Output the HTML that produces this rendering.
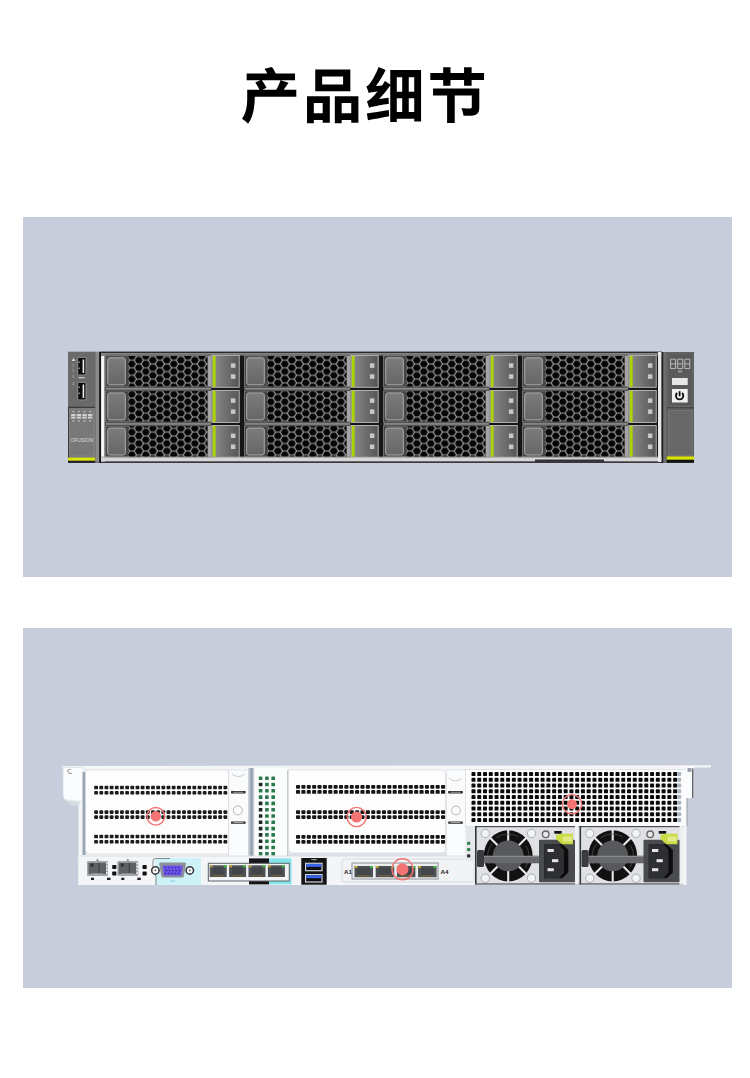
<!DOCTYPE html><html><head><meta charset="utf-8"><title>产品细节</title><style>html,body{margin:0;padding:0;background:#fff;width:750px;height:1078px;overflow:hidden;font-family:"Liberation Sans",sans-serif}svg{display:block}</style></head><body>
<svg width="750" height="1078" viewBox="0 0 750 1078">
<defs>
<pattern id="hex0" patternUnits="userSpaceOnUse" width="14.0" height="7.57" x="131.80" y="364">
<rect width="14.0" height="7.57" fill="#050505"/>
<path fill="none" stroke="#a4a4a4" stroke-width="1.15" d="M-4.667 0.000 L-2.333 -3.785 L2.333 -3.785 L4.667 0.000 L2.333 3.785 L-2.333 3.785Z M9.333 0.000 L11.667 -3.785 L16.333 -3.785 L18.667 0.000 L16.333 3.785 L11.667 3.785Z M-4.667 7.570 L-2.333 3.785 L2.333 3.785 L4.667 7.570 L2.333 11.355 L-2.333 11.355Z M9.333 7.570 L11.667 3.785 L16.333 3.785 L18.667 7.570 L16.333 11.355 L11.667 11.355Z M2.333 3.785 L4.667 0.000 L9.333 0.000 L11.667 3.785 L9.333 7.570 L4.667 7.570Z"/>
</pattern>
<pattern id="hex1" patternUnits="userSpaceOnUse" width="14.0" height="7.57" x="270.80" y="364">
<rect width="14.0" height="7.57" fill="#050505"/>
<path fill="none" stroke="#a4a4a4" stroke-width="1.15" d="M-4.667 0.000 L-2.333 -3.785 L2.333 -3.785 L4.667 0.000 L2.333 3.785 L-2.333 3.785Z M9.333 0.000 L11.667 -3.785 L16.333 -3.785 L18.667 0.000 L16.333 3.785 L11.667 3.785Z M-4.667 7.570 L-2.333 3.785 L2.333 3.785 L4.667 7.570 L2.333 11.355 L-2.333 11.355Z M9.333 7.570 L11.667 3.785 L16.333 3.785 L18.667 7.570 L16.333 11.355 L11.667 11.355Z M2.333 3.785 L4.667 0.000 L9.333 0.000 L11.667 3.785 L9.333 7.570 L4.667 7.570Z"/>
</pattern>
<pattern id="hex2" patternUnits="userSpaceOnUse" width="14.0" height="7.57" x="409.80" y="364">
<rect width="14.0" height="7.57" fill="#050505"/>
<path fill="none" stroke="#a4a4a4" stroke-width="1.15" d="M-4.667 0.000 L-2.333 -3.785 L2.333 -3.785 L4.667 0.000 L2.333 3.785 L-2.333 3.785Z M9.333 0.000 L11.667 -3.785 L16.333 -3.785 L18.667 0.000 L16.333 3.785 L11.667 3.785Z M-4.667 7.570 L-2.333 3.785 L2.333 3.785 L4.667 7.570 L2.333 11.355 L-2.333 11.355Z M9.333 7.570 L11.667 3.785 L16.333 3.785 L18.667 7.570 L16.333 11.355 L11.667 11.355Z M2.333 3.785 L4.667 0.000 L9.333 0.000 L11.667 3.785 L9.333 7.570 L4.667 7.570Z"/>
</pattern>
<pattern id="hex3" patternUnits="userSpaceOnUse" width="14.0" height="7.57" x="548.80" y="364">
<rect width="14.0" height="7.57" fill="#050505"/>
<path fill="none" stroke="#a4a4a4" stroke-width="1.15" d="M-4.667 0.000 L-2.333 -3.785 L2.333 -3.785 L4.667 0.000 L2.333 3.785 L-2.333 3.785Z M9.333 0.000 L11.667 -3.785 L16.333 -3.785 L18.667 0.000 L16.333 3.785 L11.667 3.785Z M-4.667 7.570 L-2.333 3.785 L2.333 3.785 L4.667 7.570 L2.333 11.355 L-2.333 11.355Z M9.333 7.570 L11.667 3.785 L16.333 3.785 L18.667 7.570 L16.333 11.355 L11.667 11.355Z M2.333 3.785 L4.667 0.000 L9.333 0.000 L11.667 3.785 L9.333 7.570 L4.667 7.570Z"/>
</pattern>
<linearGradient id="latch" x1="0" x2="1" y1="0" y2="0"><stop offset="0" stop-color="#8c8c8c"/><stop offset="1" stop-color="#555"/></linearGradient>
<linearGradient id="handle" x1="0" x2="0" y1="0" y2="1"><stop offset="0" stop-color="#7c7c7c"/><stop offset="1" stop-color="#666"/></linearGradient>
<linearGradient id="sideband" x1="0" x2="1" y1="0" y2="0"><stop offset="0" stop-color="#a9b3be"/><stop offset="0.5" stop-color="#93a0ad"/><stop offset="1" stop-color="#dfe4ea"/></linearGradient>
<linearGradient id="cyl" x1="0" x2="1" y1="0" y2="0"><stop offset="0" stop-color="#d6dce2"/><stop offset="0.55" stop-color="#8f9ba8"/><stop offset="1" stop-color="#e4e8ec"/></linearGradient>
<linearGradient id="chrome" x1="0" x2="1" y1="0" y2="0"><stop offset="0" stop-color="#fff"/><stop offset="0.6" stop-color="#eee"/><stop offset="1" stop-color="#777"/></linearGradient>
</defs>
<path transform="translate(240.60 117.8) scale(0.05950 -0.05950)" d="M403 824C419 801 435 773 448 746H102V632H332L246 595C272 558 301 510 317 472H111V333C111 231 103 87 24 -16C51 -31 105 -78 125 -102C218 17 237 205 237 331V355H936V472H724L807 589L672 631C656 583 626 518 599 472H367L436 503C421 540 388 592 357 632H915V746H590C577 778 552 822 527 854Z"/>
<path transform="translate(302.87 117.8) scale(0.05950 -0.05950)" d="M324 695H676V561H324ZM208 810V447H798V810ZM70 363V-90H184V-39H333V-84H453V363ZM184 76V248H333V76ZM537 363V-90H652V-39H813V-85H933V363ZM652 76V248H813V76Z"/>
<path transform="translate(365.14 117.8) scale(0.05950 -0.05950)" d="M29 73 47 -43C149 -23 280 0 404 25L397 131C264 109 124 85 29 73ZM422 802V559L333 619C318 594 302 568 285 544L181 536C241 615 300 712 344 805L227 854C184 738 111 617 86 585C62 553 44 532 21 527C35 495 55 438 60 414C78 422 105 428 208 440C167 390 132 351 114 335C80 302 56 282 30 276C43 247 60 192 66 170C94 184 136 195 400 238C397 263 394 309 395 339L234 317C302 385 367 463 422 542V-70H532V-14H825V-61H940V802ZM623 97H532V328H623ZM733 97V328H825V97ZM623 439H532V681H623ZM733 439V681H825V439Z"/>
<path transform="translate(427.41 117.8) scale(0.05950 -0.05950)" d="M95 492V376H331V-87H459V376H746V176C746 162 740 159 721 158C702 158 630 158 572 161C588 125 603 71 607 34C700 34 766 34 812 53C860 72 872 109 872 173V492ZM616 850V751H388V850H265V751H49V636H265V540H388V636H616V540H743V636H952V751H743V850Z"/>
<rect x="23" y="217" width="709" height="360" fill="#c7cdda"/>
<rect x="23" y="628" width="709" height="360" fill="#c7cdda"/>
<rect x="68" y="352" width="626" height="111" fill="#3a3a3a"/>
<rect x="68" y="351.7" width="27.3" height="56" fill="#6a6a6a"/>
<rect x="68" y="407.7" width="27.3" height="55" fill="#787878"/>
<rect x="68" y="406.7" width="27.3" height="1.4" fill="#3c3c3c"/>
<rect x="68" y="408" width="1.2" height="54.7" fill="#3a3a3a"/>
<rect x="69.5" y="409" width="24.5" height="47" fill="none" stroke="#8a8a8a" stroke-width="0.7"/>
<rect x="68" y="457.6" width="27.3" height="3.2" fill="#d9e600"/>
<rect x="68" y="460.8" width="27.3" height="2" fill="#1c1c2a"/>
<rect x="95.3" y="351.7" width="4" height="111" fill="#8a8a8a"/>
<rect x="99.3" y="351.7" width="1.8" height="111" fill="#111"/>
<rect x="77.6" y="357.4" width="8.6" height="17.6" rx="1.2" fill="none" stroke="#8d8d8d" stroke-width="0.8"/>
<rect x="78.3" y="358.0" width="7" height="16.3" fill="#0a0a0a"/>
<rect x="82.6" y="359.5" width="1.6" height="13.5" fill="#f0f0f0"/>
<rect x="78.6" y="361.6" width="1.2" height="1.2" fill="#ddd"/>
<rect x="78.6" y="367.6" width="1.2" height="1.2" fill="#ddd"/>
<rect x="77.6" y="382.4" width="8.6" height="17.6" rx="1.2" fill="none" stroke="#8d8d8d" stroke-width="0.8"/>
<rect x="78.3" y="383.0" width="7" height="16.3" fill="#0a0a0a"/>
<rect x="82.6" y="384.5" width="1.6" height="13.5" fill="#f0f0f0"/>
<rect x="78.6" y="386.6" width="1.2" height="1.2" fill="#ddd"/>
<rect x="78.6" y="392.6" width="1.2" height="1.2" fill="#ddd"/>
<path d="M71.5 361 L73.5 358 L75.5 361 Z" fill="#d8d8d8"/>
<text x="73.2" y="366.5" font-size="3.4" fill="#c8c8c8" text-anchor="middle" font-family="Liberation Sans">1</text>
<text x="73.2" y="372.0" font-size="3.4" fill="#c8c8c8" text-anchor="middle" font-family="Liberation Sans">2</text>
<text x="73.2" y="378.0" font-size="3.4" fill="#c8c8c8" text-anchor="middle" font-family="Liberation Sans">3</text>
<text x="73.2" y="384.5" font-size="3.4" fill="#c8c8c8" text-anchor="middle" font-family="Liberation Sans">4</text>
<rect x="78.6" y="377" width="6" height="1.3" fill="#c0c0c0"/>
<rect x="72.3" y="410.8" width="2" height="1.6" fill="#b0b0b0"/>
<rect x="71.1" y="414.0" width="4.4" height="2" fill="#d2d2d2"/>
<rect x="71.1" y="416.6" width="4.4" height="2" fill="#d2d2d2"/>
<rect x="72.3" y="420" width="2" height="2" fill="#a8a8a8"/>
<rect x="77.9" y="410.8" width="2" height="1.6" fill="#b0b0b0"/>
<rect x="76.7" y="414.0" width="4.4" height="2" fill="#d2d2d2"/>
<rect x="76.7" y="416.6" width="4.4" height="2" fill="#d2d2d2"/>
<rect x="77.9" y="420" width="2" height="2" fill="#a8a8a8"/>
<rect x="83.5" y="410.8" width="2" height="1.6" fill="#b0b0b0"/>
<rect x="82.3" y="414.0" width="4.4" height="2" fill="#d2d2d2"/>
<rect x="82.3" y="416.6" width="4.4" height="2" fill="#d2d2d2"/>
<rect x="83.5" y="420" width="2" height="2" fill="#a8a8a8"/>
<rect x="89.1" y="410.8" width="2" height="1.6" fill="#b0b0b0"/>
<rect x="87.9" y="414.0" width="4.4" height="2" fill="#d2d2d2"/>
<rect x="87.9" y="416.6" width="4.4" height="2" fill="#d2d2d2"/>
<rect x="89.1" y="420" width="2" height="2" fill="#a8a8a8"/>
<text x="82" y="442.3" font-size="4.6" fill="#dcdcdc" text-anchor="middle" font-family="Liberation Sans" textLength="22.5" lengthAdjust="spacingAndGlyphs">OFUSION</text>
<rect x="101.1" y="353" width="3.6" height="108.5" fill="#f6f6f6"/>
<rect x="104.2" y="353" width="1.5" height="108.5" fill="#8a8a8a"/>
<rect x="101" y="351.7" width="561" height="4.3" fill="#858585"/>
<rect x="101" y="351.7" width="561" height="1.2" fill="#222"/>
<rect x="105" y="354.6" width="553" height="0.8" fill="#555"/>
<rect x="105" y="355.7" width="553" height="101" fill="#161616"/>
<rect x="105.50" y="355.80" width="102" height="31" fill="#464646" stroke="#8e8e8e" stroke-width="0.7"/>
<rect x="128.30" y="356.00" width="79.5" height="30.6" fill="url(#hex0)"/>
<rect x="207.70" y="355.80" width="3.4" height="31" fill="#a4a4a4"/>
<rect x="107.70" y="357.80" width="17.6" height="27" rx="2.2" fill="url(#handle)" stroke="#ababab" stroke-width="1"/>
<rect x="211.80" y="355.30" width="27.4" height="32" fill="url(#latch)" stroke="#c2c2c2" stroke-width="0.9"/>
<rect x="212.80" y="355.80" width="2.8" height="31" fill="#acd400"/>
<rect x="230.90" y="363.30" width="4.5" height="4.5" fill="#c8c8c8"/>
<rect x="230.90" y="374.30" width="4.5" height="4.5" fill="#c8c8c8"/>
<rect x="105.50" y="390.90" width="102" height="31" fill="#464646" stroke="#8e8e8e" stroke-width="0.7"/>
<rect x="128.30" y="391.10" width="79.5" height="30.6" fill="url(#hex0)"/>
<rect x="207.70" y="390.90" width="3.4" height="31" fill="#a4a4a4"/>
<rect x="107.70" y="392.90" width="17.6" height="27" rx="2.2" fill="url(#handle)" stroke="#ababab" stroke-width="1"/>
<rect x="211.80" y="390.40" width="27.4" height="32" fill="url(#latch)" stroke="#c2c2c2" stroke-width="0.9"/>
<rect x="212.80" y="390.90" width="2.8" height="31" fill="#acd400"/>
<rect x="230.90" y="398.40" width="4.5" height="4.5" fill="#c8c8c8"/>
<rect x="230.90" y="409.40" width="4.5" height="4.5" fill="#c8c8c8"/>
<rect x="105.50" y="426.00" width="102" height="31" fill="#464646" stroke="#8e8e8e" stroke-width="0.7"/>
<rect x="128.30" y="426.20" width="79.5" height="30.6" fill="url(#hex0)"/>
<rect x="207.70" y="426.00" width="3.4" height="31" fill="#a4a4a4"/>
<rect x="107.70" y="428.00" width="17.6" height="27" rx="2.2" fill="url(#handle)" stroke="#ababab" stroke-width="1"/>
<rect x="211.80" y="425.50" width="27.4" height="32" fill="url(#latch)" stroke="#c2c2c2" stroke-width="0.9"/>
<rect x="212.80" y="426.00" width="2.8" height="31" fill="#acd400"/>
<rect x="230.90" y="433.50" width="4.5" height="4.5" fill="#c8c8c8"/>
<rect x="230.90" y="444.50" width="4.5" height="4.5" fill="#c8c8c8"/>
<rect x="105.50" y="386.80" width="105.6" height="4.1" fill="#555"/>
<rect x="105.50" y="388.30" width="105.6" height="1.1" fill="#a2a2a2"/>
<rect x="105.50" y="421.90" width="105.6" height="4.1" fill="#555"/>
<rect x="105.50" y="423.40" width="105.6" height="1.1" fill="#a2a2a2"/>
<rect x="244.50" y="355.80" width="102" height="31" fill="#464646" stroke="#8e8e8e" stroke-width="0.7"/>
<rect x="267.30" y="356.00" width="79.5" height="30.6" fill="url(#hex1)"/>
<rect x="346.70" y="355.80" width="3.4" height="31" fill="#a4a4a4"/>
<rect x="246.70" y="357.80" width="17.6" height="27" rx="2.2" fill="url(#handle)" stroke="#ababab" stroke-width="1"/>
<rect x="350.80" y="355.30" width="27.4" height="32" fill="url(#latch)" stroke="#c2c2c2" stroke-width="0.9"/>
<rect x="351.80" y="355.80" width="2.8" height="31" fill="#acd400"/>
<rect x="369.90" y="363.30" width="4.5" height="4.5" fill="#c8c8c8"/>
<rect x="369.90" y="374.30" width="4.5" height="4.5" fill="#c8c8c8"/>
<rect x="244.50" y="390.90" width="102" height="31" fill="#464646" stroke="#8e8e8e" stroke-width="0.7"/>
<rect x="267.30" y="391.10" width="79.5" height="30.6" fill="url(#hex1)"/>
<rect x="346.70" y="390.90" width="3.4" height="31" fill="#a4a4a4"/>
<rect x="246.70" y="392.90" width="17.6" height="27" rx="2.2" fill="url(#handle)" stroke="#ababab" stroke-width="1"/>
<rect x="350.80" y="390.40" width="27.4" height="32" fill="url(#latch)" stroke="#c2c2c2" stroke-width="0.9"/>
<rect x="351.80" y="390.90" width="2.8" height="31" fill="#acd400"/>
<rect x="369.90" y="398.40" width="4.5" height="4.5" fill="#c8c8c8"/>
<rect x="369.90" y="409.40" width="4.5" height="4.5" fill="#c8c8c8"/>
<rect x="244.50" y="426.00" width="102" height="31" fill="#464646" stroke="#8e8e8e" stroke-width="0.7"/>
<rect x="267.30" y="426.20" width="79.5" height="30.6" fill="url(#hex1)"/>
<rect x="346.70" y="426.00" width="3.4" height="31" fill="#a4a4a4"/>
<rect x="246.70" y="428.00" width="17.6" height="27" rx="2.2" fill="url(#handle)" stroke="#ababab" stroke-width="1"/>
<rect x="350.80" y="425.50" width="27.4" height="32" fill="url(#latch)" stroke="#c2c2c2" stroke-width="0.9"/>
<rect x="351.80" y="426.00" width="2.8" height="31" fill="#acd400"/>
<rect x="369.90" y="433.50" width="4.5" height="4.5" fill="#c8c8c8"/>
<rect x="369.90" y="444.50" width="4.5" height="4.5" fill="#c8c8c8"/>
<rect x="244.50" y="386.80" width="105.6" height="4.1" fill="#555"/>
<rect x="244.50" y="388.30" width="105.6" height="1.1" fill="#a2a2a2"/>
<rect x="244.50" y="421.90" width="105.6" height="4.1" fill="#555"/>
<rect x="244.50" y="423.40" width="105.6" height="1.1" fill="#a2a2a2"/>
<rect x="383.50" y="355.80" width="102" height="31" fill="#464646" stroke="#8e8e8e" stroke-width="0.7"/>
<rect x="406.30" y="356.00" width="79.5" height="30.6" fill="url(#hex2)"/>
<rect x="485.70" y="355.80" width="3.4" height="31" fill="#a4a4a4"/>
<rect x="385.70" y="357.80" width="17.6" height="27" rx="2.2" fill="url(#handle)" stroke="#ababab" stroke-width="1"/>
<rect x="489.80" y="355.30" width="27.4" height="32" fill="url(#latch)" stroke="#c2c2c2" stroke-width="0.9"/>
<rect x="490.80" y="355.80" width="2.8" height="31" fill="#acd400"/>
<rect x="508.90" y="363.30" width="4.5" height="4.5" fill="#c8c8c8"/>
<rect x="508.90" y="374.30" width="4.5" height="4.5" fill="#c8c8c8"/>
<rect x="383.50" y="390.90" width="102" height="31" fill="#464646" stroke="#8e8e8e" stroke-width="0.7"/>
<rect x="406.30" y="391.10" width="79.5" height="30.6" fill="url(#hex2)"/>
<rect x="485.70" y="390.90" width="3.4" height="31" fill="#a4a4a4"/>
<rect x="385.70" y="392.90" width="17.6" height="27" rx="2.2" fill="url(#handle)" stroke="#ababab" stroke-width="1"/>
<rect x="489.80" y="390.40" width="27.4" height="32" fill="url(#latch)" stroke="#c2c2c2" stroke-width="0.9"/>
<rect x="490.80" y="390.90" width="2.8" height="31" fill="#acd400"/>
<rect x="508.90" y="398.40" width="4.5" height="4.5" fill="#c8c8c8"/>
<rect x="508.90" y="409.40" width="4.5" height="4.5" fill="#c8c8c8"/>
<rect x="383.50" y="426.00" width="102" height="31" fill="#464646" stroke="#8e8e8e" stroke-width="0.7"/>
<rect x="406.30" y="426.20" width="79.5" height="30.6" fill="url(#hex2)"/>
<rect x="485.70" y="426.00" width="3.4" height="31" fill="#a4a4a4"/>
<rect x="385.70" y="428.00" width="17.6" height="27" rx="2.2" fill="url(#handle)" stroke="#ababab" stroke-width="1"/>
<rect x="489.80" y="425.50" width="27.4" height="32" fill="url(#latch)" stroke="#c2c2c2" stroke-width="0.9"/>
<rect x="490.80" y="426.00" width="2.8" height="31" fill="#acd400"/>
<rect x="508.90" y="433.50" width="4.5" height="4.5" fill="#c8c8c8"/>
<rect x="508.90" y="444.50" width="4.5" height="4.5" fill="#c8c8c8"/>
<rect x="383.50" y="386.80" width="105.6" height="4.1" fill="#555"/>
<rect x="383.50" y="388.30" width="105.6" height="1.1" fill="#a2a2a2"/>
<rect x="383.50" y="421.90" width="105.6" height="4.1" fill="#555"/>
<rect x="383.50" y="423.40" width="105.6" height="1.1" fill="#a2a2a2"/>
<rect x="522.50" y="355.80" width="102" height="31" fill="#464646" stroke="#8e8e8e" stroke-width="0.7"/>
<rect x="545.30" y="356.00" width="79.5" height="30.6" fill="url(#hex3)"/>
<rect x="624.70" y="355.80" width="3.4" height="31" fill="#a4a4a4"/>
<rect x="524.70" y="357.80" width="17.6" height="27" rx="2.2" fill="url(#handle)" stroke="#ababab" stroke-width="1"/>
<rect x="628.80" y="355.30" width="27.4" height="32" fill="url(#latch)" stroke="#c2c2c2" stroke-width="0.9"/>
<rect x="629.80" y="355.80" width="2.8" height="31" fill="#acd400"/>
<rect x="647.90" y="363.30" width="4.5" height="4.5" fill="#c8c8c8"/>
<rect x="647.90" y="374.30" width="4.5" height="4.5" fill="#c8c8c8"/>
<rect x="522.50" y="390.90" width="102" height="31" fill="#464646" stroke="#8e8e8e" stroke-width="0.7"/>
<rect x="545.30" y="391.10" width="79.5" height="30.6" fill="url(#hex3)"/>
<rect x="624.70" y="390.90" width="3.4" height="31" fill="#a4a4a4"/>
<rect x="524.70" y="392.90" width="17.6" height="27" rx="2.2" fill="url(#handle)" stroke="#ababab" stroke-width="1"/>
<rect x="628.80" y="390.40" width="27.4" height="32" fill="url(#latch)" stroke="#c2c2c2" stroke-width="0.9"/>
<rect x="629.80" y="390.90" width="2.8" height="31" fill="#acd400"/>
<rect x="647.90" y="398.40" width="4.5" height="4.5" fill="#c8c8c8"/>
<rect x="647.90" y="409.40" width="4.5" height="4.5" fill="#c8c8c8"/>
<rect x="522.50" y="426.00" width="102" height="31" fill="#464646" stroke="#8e8e8e" stroke-width="0.7"/>
<rect x="545.30" y="426.20" width="79.5" height="30.6" fill="url(#hex3)"/>
<rect x="624.70" y="426.00" width="3.4" height="31" fill="#a4a4a4"/>
<rect x="524.70" y="428.00" width="17.6" height="27" rx="2.2" fill="url(#handle)" stroke="#ababab" stroke-width="1"/>
<rect x="628.80" y="425.50" width="27.4" height="32" fill="url(#latch)" stroke="#c2c2c2" stroke-width="0.9"/>
<rect x="629.80" y="426.00" width="2.8" height="31" fill="#acd400"/>
<rect x="647.90" y="433.50" width="4.5" height="4.5" fill="#c8c8c8"/>
<rect x="647.90" y="444.50" width="4.5" height="4.5" fill="#c8c8c8"/>
<rect x="522.50" y="386.80" width="105.6" height="4.1" fill="#555"/>
<rect x="522.50" y="388.30" width="105.6" height="1.1" fill="#a2a2a2"/>
<rect x="522.50" y="421.90" width="105.6" height="4.1" fill="#555"/>
<rect x="522.50" y="423.40" width="105.6" height="1.1" fill="#a2a2a2"/>
<rect x="101" y="457.3" width="561" height="4" fill="#d6d6d6"/>
<rect x="101" y="456.6" width="561" height="0.8" fill="#9a9a9a"/>
<rect x="535" y="459.5" width="69" height="2.5" fill="#333"/>
<rect x="658" y="352" width="3.6" height="110" fill="#e6e6e6"/>
<rect x="661.6" y="352" width="1.7" height="111" fill="#1e1e1e"/>
<rect x="663.3" y="352" width="3.5" height="111" fill="#6e6e6e"/>
<rect x="666.8" y="352" width="27.2" height="56" fill="#5a5a5a"/>
<rect x="667.8" y="353" width="25.2" height="53.6" fill="none" stroke="#707070" stroke-width="0.7"/>
<rect x="666.8" y="408" width="27.2" height="55" fill="#5c5c5c"/>
<rect x="668.3" y="410.5" width="24.4" height="45" fill="#686868" stroke="#7c7c7c" stroke-width="0.7"/>
<line x1="666.8" y1="407.6" x2="694" y2="407.6" stroke="#444" stroke-width="1"/>
<rect x="666.8" y="456.4" width="27.2" height="3.4" fill="#d8e400"/>
<rect x="666.8" y="459.8" width="27.2" height="2.9" fill="#111"/>
<line x1="670.6" y1="359.2" x2="675.6" y2="359.2" stroke="#c4c4c4" stroke-width="0.9"/>
<line x1="670.6" y1="363.9" x2="675.6" y2="363.9" stroke="#c4c4c4" stroke-width="0.9"/>
<line x1="670.6" y1="368.6" x2="675.6" y2="368.6" stroke="#c4c4c4" stroke-width="0.9"/>
<line x1="670.6" y1="359.2" x2="670.6" y2="368.6" stroke="#c4c4c4" stroke-width="0.9"/>
<line x1="675.6" y1="359.2" x2="675.6" y2="368.6" stroke="#c4c4c4" stroke-width="0.9"/>
<line x1="677.7" y1="359.2" x2="682.7" y2="359.2" stroke="#c4c4c4" stroke-width="0.9"/>
<line x1="677.7" y1="363.9" x2="682.7" y2="363.9" stroke="#c4c4c4" stroke-width="0.9"/>
<line x1="677.7" y1="368.6" x2="682.7" y2="368.6" stroke="#c4c4c4" stroke-width="0.9"/>
<line x1="677.7" y1="359.2" x2="677.7" y2="368.6" stroke="#c4c4c4" stroke-width="0.9"/>
<line x1="682.7" y1="359.2" x2="682.7" y2="368.6" stroke="#c4c4c4" stroke-width="0.9"/>
<line x1="684.8" y1="359.2" x2="689.8" y2="359.2" stroke="#c4c4c4" stroke-width="0.9"/>
<line x1="684.8" y1="363.9" x2="689.8" y2="363.9" stroke="#c4c4c4" stroke-width="0.9"/>
<line x1="684.8" y1="368.6" x2="689.8" y2="368.6" stroke="#c4c4c4" stroke-width="0.9"/>
<line x1="684.8" y1="359.2" x2="684.8" y2="368.6" stroke="#c4c4c4" stroke-width="0.9"/>
<line x1="689.8" y1="359.2" x2="689.8" y2="368.6" stroke="#c4c4c4" stroke-width="0.9"/>
<rect x="678" y="370.5" width="4" height="2" fill="#999"/>
<rect x="672" y="378" width="15.7" height="7" fill="#e6e6e6"/>
<rect x="672" y="389" width="15.7" height="13.5" fill="#efefef"/>
<path d="M677.1 393.0 a3.7 3.7 0 1 0 5.0 0" fill="none" stroke="#0a0a0a" stroke-width="1.8"/><line x1="679.6" y1="391.2" x2="679.6" y2="396.2" stroke="#0a0a0a" stroke-width="1.8"/>
<g id="rear">
<path d="M62 766 L711 765.3 L711 767.6 L62 768.5 Z" fill="#f4f6f8"/>
<rect x="78.5" y="767" width="608" height="118" fill="#f3f5f7"/>
<path d="M63 767 L84 768 L84 801.6 L68 801 Q63 800 63 795 Z" fill="#fbfcfd" stroke="#d6dbe2" stroke-width="0.8"/>
<path d="M72 773.5 Q68 774 67.5 771 Q68 769 70.5 769.5" fill="none" stroke="#777" stroke-width="0.8"/>
<rect x="82.4" y="772" width="4" height="83" fill="url(#sideband)"/>
<path d="M64 799 L80 801 L80 806 L70 805 Z" fill="#dde2e8" opacity="0.7"/>
<path d="M85.5 770 L228.5 770 L228.5 854 L90 854 Q85.5 854 85.5 849 Z" fill="#fdfdfd" stroke="#d0d5dc" stroke-width="0.6"/>
<rect x="94.20" y="785.70" width="3.80" height="3.60" rx="0.9" fill="#1c1c1c"/>
<rect x="99.37" y="785.70" width="3.80" height="3.60" rx="0.9" fill="#1c1c1c"/>
<rect x="104.54" y="785.70" width="3.80" height="3.60" rx="0.9" fill="#1c1c1c"/>
<rect x="109.71" y="785.70" width="3.80" height="3.60" rx="0.9" fill="#1c1c1c"/>
<rect x="114.88" y="785.70" width="3.80" height="3.60" rx="0.9" fill="#1c1c1c"/>
<rect x="120.05" y="785.70" width="3.80" height="3.60" rx="0.9" fill="#1c1c1c"/>
<rect x="125.22" y="785.70" width="3.80" height="3.60" rx="0.9" fill="#1c1c1c"/>
<rect x="130.39" y="785.70" width="3.80" height="3.60" rx="0.9" fill="#1c1c1c"/>
<rect x="135.56" y="785.70" width="3.80" height="3.60" rx="0.9" fill="#1c1c1c"/>
<rect x="140.73" y="785.70" width="3.80" height="3.60" rx="0.9" fill="#1c1c1c"/>
<rect x="145.90" y="785.70" width="3.80" height="3.60" rx="0.9" fill="#1c1c1c"/>
<rect x="151.07" y="785.70" width="3.80" height="3.60" rx="0.9" fill="#1c1c1c"/>
<rect x="156.24" y="785.70" width="3.80" height="3.60" rx="0.9" fill="#1c1c1c"/>
<rect x="161.41" y="785.70" width="3.80" height="3.60" rx="0.9" fill="#1c1c1c"/>
<rect x="166.58" y="785.70" width="3.80" height="3.60" rx="0.9" fill="#1c1c1c"/>
<rect x="171.75" y="785.70" width="3.80" height="3.60" rx="0.9" fill="#1c1c1c"/>
<rect x="176.92" y="785.70" width="3.80" height="3.60" rx="0.9" fill="#1c1c1c"/>
<rect x="182.09" y="785.70" width="3.80" height="3.60" rx="0.9" fill="#1c1c1c"/>
<rect x="187.26" y="785.70" width="3.80" height="3.60" rx="0.9" fill="#1c1c1c"/>
<rect x="192.43" y="785.70" width="3.80" height="3.60" rx="0.9" fill="#1c1c1c"/>
<rect x="197.60" y="785.70" width="3.80" height="3.60" rx="0.9" fill="#1c1c1c"/>
<rect x="202.77" y="785.70" width="3.80" height="3.60" rx="0.9" fill="#1c1c1c"/>
<rect x="207.94" y="785.70" width="3.80" height="3.60" rx="0.9" fill="#1c1c1c"/>
<rect x="213.11" y="785.70" width="3.80" height="3.60" rx="0.9" fill="#1c1c1c"/>
<rect x="218.28" y="785.70" width="3.80" height="3.60" rx="0.9" fill="#1c1c1c"/>
<rect x="223.45" y="785.70" width="3.80" height="3.60" rx="0.9" fill="#1c1c1c"/>
<rect x="94.20" y="791.00" width="3.80" height="3.60" rx="0.9" fill="#1c1c1c"/>
<rect x="99.37" y="791.00" width="3.80" height="3.60" rx="0.9" fill="#1c1c1c"/>
<rect x="104.54" y="791.00" width="3.80" height="3.60" rx="0.9" fill="#1c1c1c"/>
<rect x="109.71" y="791.00" width="3.80" height="3.60" rx="0.9" fill="#1c1c1c"/>
<rect x="114.88" y="791.00" width="3.80" height="3.60" rx="0.9" fill="#1c1c1c"/>
<rect x="120.05" y="791.00" width="3.80" height="3.60" rx="0.9" fill="#1c1c1c"/>
<rect x="125.22" y="791.00" width="3.80" height="3.60" rx="0.9" fill="#1c1c1c"/>
<rect x="130.39" y="791.00" width="3.80" height="3.60" rx="0.9" fill="#1c1c1c"/>
<rect x="135.56" y="791.00" width="3.80" height="3.60" rx="0.9" fill="#1c1c1c"/>
<rect x="140.73" y="791.00" width="3.80" height="3.60" rx="0.9" fill="#1c1c1c"/>
<rect x="145.90" y="791.00" width="3.80" height="3.60" rx="0.9" fill="#1c1c1c"/>
<rect x="151.07" y="791.00" width="3.80" height="3.60" rx="0.9" fill="#1c1c1c"/>
<rect x="156.24" y="791.00" width="3.80" height="3.60" rx="0.9" fill="#1c1c1c"/>
<rect x="161.41" y="791.00" width="3.80" height="3.60" rx="0.9" fill="#1c1c1c"/>
<rect x="166.58" y="791.00" width="3.80" height="3.60" rx="0.9" fill="#1c1c1c"/>
<rect x="171.75" y="791.00" width="3.80" height="3.60" rx="0.9" fill="#1c1c1c"/>
<rect x="176.92" y="791.00" width="3.80" height="3.60" rx="0.9" fill="#1c1c1c"/>
<rect x="182.09" y="791.00" width="3.80" height="3.60" rx="0.9" fill="#1c1c1c"/>
<rect x="187.26" y="791.00" width="3.80" height="3.60" rx="0.9" fill="#1c1c1c"/>
<rect x="192.43" y="791.00" width="3.80" height="3.60" rx="0.9" fill="#1c1c1c"/>
<rect x="197.60" y="791.00" width="3.80" height="3.60" rx="0.9" fill="#1c1c1c"/>
<rect x="202.77" y="791.00" width="3.80" height="3.60" rx="0.9" fill="#1c1c1c"/>
<rect x="207.94" y="791.00" width="3.80" height="3.60" rx="0.9" fill="#1c1c1c"/>
<rect x="213.11" y="791.00" width="3.80" height="3.60" rx="0.9" fill="#1c1c1c"/>
<rect x="218.28" y="791.00" width="3.80" height="3.60" rx="0.9" fill="#1c1c1c"/>
<rect x="223.45" y="791.00" width="3.80" height="3.60" rx="0.9" fill="#1c1c1c"/>
<rect x="94.20" y="810.30" width="3.80" height="3.60" rx="0.9" fill="#1c1c1c"/>
<rect x="99.37" y="810.30" width="3.80" height="3.60" rx="0.9" fill="#1c1c1c"/>
<rect x="104.54" y="810.30" width="3.80" height="3.60" rx="0.9" fill="#1c1c1c"/>
<rect x="109.71" y="810.30" width="3.80" height="3.60" rx="0.9" fill="#1c1c1c"/>
<rect x="114.88" y="810.30" width="3.80" height="3.60" rx="0.9" fill="#1c1c1c"/>
<rect x="120.05" y="810.30" width="3.80" height="3.60" rx="0.9" fill="#1c1c1c"/>
<rect x="125.22" y="810.30" width="3.80" height="3.60" rx="0.9" fill="#1c1c1c"/>
<rect x="130.39" y="810.30" width="3.80" height="3.60" rx="0.9" fill="#1c1c1c"/>
<rect x="135.56" y="810.30" width="3.80" height="3.60" rx="0.9" fill="#1c1c1c"/>
<rect x="140.73" y="810.30" width="3.80" height="3.60" rx="0.9" fill="#1c1c1c"/>
<rect x="145.90" y="810.30" width="3.80" height="3.60" rx="0.9" fill="#1c1c1c"/>
<rect x="151.07" y="810.30" width="3.80" height="3.60" rx="0.9" fill="#1c1c1c"/>
<rect x="156.24" y="810.30" width="3.80" height="3.60" rx="0.9" fill="#1c1c1c"/>
<rect x="161.41" y="810.30" width="3.80" height="3.60" rx="0.9" fill="#1c1c1c"/>
<rect x="166.58" y="810.30" width="3.80" height="3.60" rx="0.9" fill="#1c1c1c"/>
<rect x="171.75" y="810.30" width="3.80" height="3.60" rx="0.9" fill="#1c1c1c"/>
<rect x="176.92" y="810.30" width="3.80" height="3.60" rx="0.9" fill="#1c1c1c"/>
<rect x="182.09" y="810.30" width="3.80" height="3.60" rx="0.9" fill="#1c1c1c"/>
<rect x="187.26" y="810.30" width="3.80" height="3.60" rx="0.9" fill="#1c1c1c"/>
<rect x="192.43" y="810.30" width="3.80" height="3.60" rx="0.9" fill="#1c1c1c"/>
<rect x="197.60" y="810.30" width="3.80" height="3.60" rx="0.9" fill="#1c1c1c"/>
<rect x="202.77" y="810.30" width="3.80" height="3.60" rx="0.9" fill="#1c1c1c"/>
<rect x="207.94" y="810.30" width="3.80" height="3.60" rx="0.9" fill="#1c1c1c"/>
<rect x="213.11" y="810.30" width="3.80" height="3.60" rx="0.9" fill="#1c1c1c"/>
<rect x="218.28" y="810.30" width="3.80" height="3.60" rx="0.9" fill="#1c1c1c"/>
<rect x="223.45" y="810.30" width="3.80" height="3.60" rx="0.9" fill="#1c1c1c"/>
<rect x="94.20" y="815.30" width="3.80" height="3.60" rx="0.9" fill="#1c1c1c"/>
<rect x="99.37" y="815.30" width="3.80" height="3.60" rx="0.9" fill="#1c1c1c"/>
<rect x="104.54" y="815.30" width="3.80" height="3.60" rx="0.9" fill="#1c1c1c"/>
<rect x="109.71" y="815.30" width="3.80" height="3.60" rx="0.9" fill="#1c1c1c"/>
<rect x="114.88" y="815.30" width="3.80" height="3.60" rx="0.9" fill="#1c1c1c"/>
<rect x="120.05" y="815.30" width="3.80" height="3.60" rx="0.9" fill="#1c1c1c"/>
<rect x="125.22" y="815.30" width="3.80" height="3.60" rx="0.9" fill="#1c1c1c"/>
<rect x="130.39" y="815.30" width="3.80" height="3.60" rx="0.9" fill="#1c1c1c"/>
<rect x="135.56" y="815.30" width="3.80" height="3.60" rx="0.9" fill="#1c1c1c"/>
<rect x="140.73" y="815.30" width="3.80" height="3.60" rx="0.9" fill="#1c1c1c"/>
<rect x="145.90" y="815.30" width="3.80" height="3.60" rx="0.9" fill="#1c1c1c"/>
<rect x="151.07" y="815.30" width="3.80" height="3.60" rx="0.9" fill="#1c1c1c"/>
<rect x="156.24" y="815.30" width="3.80" height="3.60" rx="0.9" fill="#1c1c1c"/>
<rect x="161.41" y="815.30" width="3.80" height="3.60" rx="0.9" fill="#1c1c1c"/>
<rect x="166.58" y="815.30" width="3.80" height="3.60" rx="0.9" fill="#1c1c1c"/>
<rect x="171.75" y="815.30" width="3.80" height="3.60" rx="0.9" fill="#1c1c1c"/>
<rect x="176.92" y="815.30" width="3.80" height="3.60" rx="0.9" fill="#1c1c1c"/>
<rect x="182.09" y="815.30" width="3.80" height="3.60" rx="0.9" fill="#1c1c1c"/>
<rect x="187.26" y="815.30" width="3.80" height="3.60" rx="0.9" fill="#1c1c1c"/>
<rect x="192.43" y="815.30" width="3.80" height="3.60" rx="0.9" fill="#1c1c1c"/>
<rect x="197.60" y="815.30" width="3.80" height="3.60" rx="0.9" fill="#1c1c1c"/>
<rect x="202.77" y="815.30" width="3.80" height="3.60" rx="0.9" fill="#1c1c1c"/>
<rect x="207.94" y="815.30" width="3.80" height="3.60" rx="0.9" fill="#1c1c1c"/>
<rect x="213.11" y="815.30" width="3.80" height="3.60" rx="0.9" fill="#1c1c1c"/>
<rect x="218.28" y="815.30" width="3.80" height="3.60" rx="0.9" fill="#1c1c1c"/>
<rect x="223.45" y="815.30" width="3.80" height="3.60" rx="0.9" fill="#1c1c1c"/>
<rect x="94.20" y="834.70" width="3.80" height="3.60" rx="0.9" fill="#1c1c1c"/>
<rect x="99.37" y="834.70" width="3.80" height="3.60" rx="0.9" fill="#1c1c1c"/>
<rect x="104.54" y="834.70" width="3.80" height="3.60" rx="0.9" fill="#1c1c1c"/>
<rect x="109.71" y="834.70" width="3.80" height="3.60" rx="0.9" fill="#1c1c1c"/>
<rect x="114.88" y="834.70" width="3.80" height="3.60" rx="0.9" fill="#1c1c1c"/>
<rect x="120.05" y="834.70" width="3.80" height="3.60" rx="0.9" fill="#1c1c1c"/>
<rect x="125.22" y="834.70" width="3.80" height="3.60" rx="0.9" fill="#1c1c1c"/>
<rect x="130.39" y="834.70" width="3.80" height="3.60" rx="0.9" fill="#1c1c1c"/>
<rect x="135.56" y="834.70" width="3.80" height="3.60" rx="0.9" fill="#1c1c1c"/>
<rect x="140.73" y="834.70" width="3.80" height="3.60" rx="0.9" fill="#1c1c1c"/>
<rect x="145.90" y="834.70" width="3.80" height="3.60" rx="0.9" fill="#1c1c1c"/>
<rect x="151.07" y="834.70" width="3.80" height="3.60" rx="0.9" fill="#1c1c1c"/>
<rect x="156.24" y="834.70" width="3.80" height="3.60" rx="0.9" fill="#1c1c1c"/>
<rect x="161.41" y="834.70" width="3.80" height="3.60" rx="0.9" fill="#1c1c1c"/>
<rect x="166.58" y="834.70" width="3.80" height="3.60" rx="0.9" fill="#1c1c1c"/>
<rect x="171.75" y="834.70" width="3.80" height="3.60" rx="0.9" fill="#1c1c1c"/>
<rect x="176.92" y="834.70" width="3.80" height="3.60" rx="0.9" fill="#1c1c1c"/>
<rect x="182.09" y="834.70" width="3.80" height="3.60" rx="0.9" fill="#1c1c1c"/>
<rect x="187.26" y="834.70" width="3.80" height="3.60" rx="0.9" fill="#1c1c1c"/>
<rect x="192.43" y="834.70" width="3.80" height="3.60" rx="0.9" fill="#1c1c1c"/>
<rect x="197.60" y="834.70" width="3.80" height="3.60" rx="0.9" fill="#1c1c1c"/>
<rect x="202.77" y="834.70" width="3.80" height="3.60" rx="0.9" fill="#1c1c1c"/>
<rect x="207.94" y="834.70" width="3.80" height="3.60" rx="0.9" fill="#1c1c1c"/>
<rect x="213.11" y="834.70" width="3.80" height="3.60" rx="0.9" fill="#1c1c1c"/>
<rect x="218.28" y="834.70" width="3.80" height="3.60" rx="0.9" fill="#1c1c1c"/>
<rect x="223.45" y="834.70" width="3.80" height="3.60" rx="0.9" fill="#1c1c1c"/>
<rect x="94.20" y="840.00" width="3.80" height="3.60" rx="0.9" fill="#1c1c1c"/>
<rect x="99.37" y="840.00" width="3.80" height="3.60" rx="0.9" fill="#1c1c1c"/>
<rect x="104.54" y="840.00" width="3.80" height="3.60" rx="0.9" fill="#1c1c1c"/>
<rect x="109.71" y="840.00" width="3.80" height="3.60" rx="0.9" fill="#1c1c1c"/>
<rect x="114.88" y="840.00" width="3.80" height="3.60" rx="0.9" fill="#1c1c1c"/>
<rect x="120.05" y="840.00" width="3.80" height="3.60" rx="0.9" fill="#1c1c1c"/>
<rect x="125.22" y="840.00" width="3.80" height="3.60" rx="0.9" fill="#1c1c1c"/>
<rect x="130.39" y="840.00" width="3.80" height="3.60" rx="0.9" fill="#1c1c1c"/>
<rect x="135.56" y="840.00" width="3.80" height="3.60" rx="0.9" fill="#1c1c1c"/>
<rect x="140.73" y="840.00" width="3.80" height="3.60" rx="0.9" fill="#1c1c1c"/>
<rect x="145.90" y="840.00" width="3.80" height="3.60" rx="0.9" fill="#1c1c1c"/>
<rect x="151.07" y="840.00" width="3.80" height="3.60" rx="0.9" fill="#1c1c1c"/>
<rect x="156.24" y="840.00" width="3.80" height="3.60" rx="0.9" fill="#1c1c1c"/>
<rect x="161.41" y="840.00" width="3.80" height="3.60" rx="0.9" fill="#1c1c1c"/>
<rect x="166.58" y="840.00" width="3.80" height="3.60" rx="0.9" fill="#1c1c1c"/>
<rect x="171.75" y="840.00" width="3.80" height="3.60" rx="0.9" fill="#1c1c1c"/>
<rect x="176.92" y="840.00" width="3.80" height="3.60" rx="0.9" fill="#1c1c1c"/>
<rect x="182.09" y="840.00" width="3.80" height="3.60" rx="0.9" fill="#1c1c1c"/>
<rect x="187.26" y="840.00" width="3.80" height="3.60" rx="0.9" fill="#1c1c1c"/>
<rect x="192.43" y="840.00" width="3.80" height="3.60" rx="0.9" fill="#1c1c1c"/>
<rect x="197.60" y="840.00" width="3.80" height="3.60" rx="0.9" fill="#1c1c1c"/>
<rect x="202.77" y="840.00" width="3.80" height="3.60" rx="0.9" fill="#1c1c1c"/>
<rect x="207.94" y="840.00" width="3.80" height="3.60" rx="0.9" fill="#1c1c1c"/>
<rect x="213.11" y="840.00" width="3.80" height="3.60" rx="0.9" fill="#1c1c1c"/>
<rect x="218.28" y="840.00" width="3.80" height="3.60" rx="0.9" fill="#1c1c1c"/>
<rect x="223.45" y="840.00" width="3.80" height="3.60" rx="0.9" fill="#1c1c1c"/>
<rect x="228.8" y="770" width="19.8" height="88" fill="#fafbfc" stroke="#d5dae0" stroke-width="0.6"/>
<rect x="231" y="791" width="14.6" height="2.4" rx="0.6" fill="#2a2a2a"/>
<rect x="233.3" y="791.8" width="10" height="0.8" fill="#bbb"/>
<rect x="231" y="821.4" width="14.6" height="2.4" rx="0.6" fill="#2a2a2a"/>
<rect x="233.3" y="822.2" width="10" height="0.8" fill="#bbb"/>
<path d="M232 774 Q238 779 245 774" fill="none" stroke="#aaa" stroke-width="0.6"/>
<circle cx="237.8" cy="810.4" r="4.5" fill="none" stroke="#999" stroke-width="0.7"/>
<rect x="248.1" y="768" width="6.5" height="94" fill="url(#cyl)"/>
<rect x="254.6" y="768" width="33" height="90" fill="#fbfcfc"/>
<rect x="258.8" y="776.4" width="3.6" height="3.6" rx="0.5" fill="#2a7a4a"/>
<rect x="265.1" y="776.4" width="3.6" height="3.6" rx="0.5" fill="#2a7a4a"/>
<rect x="271.4" y="776.4" width="3.6" height="3.6" rx="0.5" fill="#2a7a4a"/>
<rect x="258.8" y="782.7" width="3.6" height="3.6" rx="0.5" fill="#1c2a22"/>
<rect x="265.1" y="782.7" width="3.6" height="3.6" rx="0.5" fill="#2a7a4a"/>
<rect x="271.4" y="782.7" width="3.6" height="3.6" rx="0.5" fill="#2a7a4a"/>
<rect x="258.8" y="789.0" width="3.6" height="3.6" rx="0.5" fill="#2a7a4a"/>
<rect x="265.1" y="789.0" width="3.6" height="3.6" rx="0.5" fill="#2a7a4a"/>
<rect x="271.4" y="789.0" width="3.6" height="3.6" rx="0.5" fill="#2a7a4a"/>
<rect x="258.8" y="795.3" width="3.6" height="3.6" rx="0.5" fill="#2a7a4a"/>
<rect x="265.1" y="795.3" width="3.6" height="3.6" rx="0.5" fill="#2a7a4a"/>
<rect x="271.4" y="795.3" width="3.6" height="3.6" rx="0.5" fill="#2a7a4a"/>
<rect x="258.8" y="801.6" width="3.6" height="3.6" rx="0.5" fill="#1c2a22"/>
<rect x="265.1" y="801.6" width="3.6" height="3.6" rx="0.5" fill="#2a7a4a"/>
<rect x="271.4" y="801.6" width="3.6" height="3.6" rx="0.5" fill="#2a7a4a"/>
<rect x="258.8" y="807.9" width="3.6" height="3.6" rx="0.5" fill="#1c2a22"/>
<rect x="265.1" y="807.9" width="3.6" height="3.6" rx="0.5" fill="#2a7a4a"/>
<rect x="271.4" y="807.9" width="3.6" height="3.6" rx="0.5" fill="#2a7a4a"/>
<rect x="258.8" y="814.2" width="3.6" height="3.6" rx="0.5" fill="#1c2a22"/>
<rect x="265.1" y="814.2" width="3.6" height="3.6" rx="0.5" fill="#2a7a4a"/>
<rect x="271.4" y="814.2" width="3.6" height="3.6" rx="0.5" fill="#2a7a4a"/>
<rect x="258.8" y="820.5" width="3.6" height="3.6" rx="0.5" fill="#1c2a22"/>
<rect x="265.1" y="820.5" width="3.6" height="3.6" rx="0.5" fill="#2a7a4a"/>
<rect x="271.4" y="820.5" width="3.6" height="3.6" rx="0.5" fill="#2a7a4a"/>
<rect x="258.8" y="826.8" width="3.6" height="3.6" rx="0.5" fill="#1c2a22"/>
<rect x="265.1" y="826.8" width="3.6" height="3.6" rx="0.5" fill="#2a7a4a"/>
<rect x="271.4" y="826.8" width="3.6" height="3.6" rx="0.5" fill="#2a7a4a"/>
<rect x="258.8" y="833.1" width="3.6" height="3.6" rx="0.5" fill="#1c2a22"/>
<rect x="265.1" y="833.1" width="3.6" height="3.6" rx="0.5" fill="#2a7a4a"/>
<rect x="271.4" y="833.1" width="3.6" height="3.6" rx="0.5" fill="#2a7a4a"/>
<rect x="258.8" y="839.4" width="3.6" height="3.6" rx="0.5" fill="#1c2a22"/>
<rect x="265.1" y="839.4" width="3.6" height="3.6" rx="0.5" fill="#2a7a4a"/>
<rect x="271.4" y="839.4" width="3.6" height="3.6" rx="0.5" fill="#2a7a4a"/>
<rect x="258.8" y="845.7" width="3.6" height="3.6" rx="0.5" fill="#1c2a22"/>
<rect x="265.1" y="845.7" width="3.6" height="3.6" rx="0.5" fill="#2a7a4a"/>
<rect x="271.4" y="845.7" width="3.6" height="3.6" rx="0.5" fill="#2a7a4a"/>
<rect x="258.8" y="852.0" width="3.6" height="3.6" rx="0.5" fill="#2a7a4a"/>
<rect x="265.1" y="852.0" width="3.6" height="3.6" rx="0.5" fill="#2a7a4a"/>
<rect x="271.4" y="852.0" width="3.6" height="3.6" rx="0.5" fill="#2a7a4a"/>
<rect x="287" y="770" width="1.5" height="86" fill="#c5cbd3"/>
<rect x="288" y="852" width="158" height="4" fill="#dfe3e8"/>
<path d="M288.5 770 L440 770 Q445.5 770 445.5 776 L445.5 849 Q445.5 853 441.5 853 L292.5 853 Q288.5 853 288.5 849 Z" fill="#fdfdfd" stroke="#cfd4db" stroke-width="0.6"/>
<rect x="296.00" y="785.00" width="4.10" height="3.70" rx="0.9" fill="#161616"/>
<rect x="301.37" y="785.00" width="4.10" height="3.70" rx="0.9" fill="#161616"/>
<rect x="306.74" y="785.00" width="4.10" height="3.70" rx="0.9" fill="#161616"/>
<rect x="312.11" y="785.00" width="4.10" height="3.70" rx="0.9" fill="#161616"/>
<rect x="317.48" y="785.00" width="4.10" height="3.70" rx="0.9" fill="#161616"/>
<rect x="322.85" y="785.00" width="4.10" height="3.70" rx="0.9" fill="#161616"/>
<rect x="328.22" y="785.00" width="4.10" height="3.70" rx="0.9" fill="#161616"/>
<rect x="333.59" y="785.00" width="4.10" height="3.70" rx="0.9" fill="#161616"/>
<rect x="338.96" y="785.00" width="4.10" height="3.70" rx="0.9" fill="#161616"/>
<rect x="344.33" y="785.00" width="4.10" height="3.70" rx="0.9" fill="#161616"/>
<rect x="349.70" y="785.00" width="4.10" height="3.70" rx="0.9" fill="#161616"/>
<rect x="355.07" y="785.00" width="4.10" height="3.70" rx="0.9" fill="#161616"/>
<rect x="360.44" y="785.00" width="4.10" height="3.70" rx="0.9" fill="#161616"/>
<rect x="365.81" y="785.00" width="4.10" height="3.70" rx="0.9" fill="#161616"/>
<rect x="371.18" y="785.00" width="4.10" height="3.70" rx="0.9" fill="#161616"/>
<rect x="376.55" y="785.00" width="4.10" height="3.70" rx="0.9" fill="#161616"/>
<rect x="381.92" y="785.00" width="4.10" height="3.70" rx="0.9" fill="#161616"/>
<rect x="387.29" y="785.00" width="4.10" height="3.70" rx="0.9" fill="#161616"/>
<rect x="392.66" y="785.00" width="4.10" height="3.70" rx="0.9" fill="#161616"/>
<rect x="398.03" y="785.00" width="4.10" height="3.70" rx="0.9" fill="#161616"/>
<rect x="403.40" y="785.00" width="4.10" height="3.70" rx="0.9" fill="#161616"/>
<rect x="408.77" y="785.00" width="4.10" height="3.70" rx="0.9" fill="#161616"/>
<rect x="414.14" y="785.00" width="4.10" height="3.70" rx="0.9" fill="#161616"/>
<rect x="419.51" y="785.00" width="4.10" height="3.70" rx="0.9" fill="#161616"/>
<rect x="424.88" y="785.00" width="4.10" height="3.70" rx="0.9" fill="#161616"/>
<rect x="430.25" y="785.00" width="4.10" height="3.70" rx="0.9" fill="#161616"/>
<rect x="435.62" y="785.00" width="4.10" height="3.70" rx="0.9" fill="#161616"/>
<rect x="440.99" y="785.00" width="4.10" height="3.70" rx="0.9" fill="#161616"/>
<rect x="296.00" y="790.10" width="4.10" height="3.70" rx="0.9" fill="#161616"/>
<rect x="301.37" y="790.10" width="4.10" height="3.70" rx="0.9" fill="#161616"/>
<rect x="306.74" y="790.10" width="4.10" height="3.70" rx="0.9" fill="#161616"/>
<rect x="312.11" y="790.10" width="4.10" height="3.70" rx="0.9" fill="#161616"/>
<rect x="317.48" y="790.10" width="4.10" height="3.70" rx="0.9" fill="#161616"/>
<rect x="322.85" y="790.10" width="4.10" height="3.70" rx="0.9" fill="#161616"/>
<rect x="328.22" y="790.10" width="4.10" height="3.70" rx="0.9" fill="#161616"/>
<rect x="333.59" y="790.10" width="4.10" height="3.70" rx="0.9" fill="#161616"/>
<rect x="338.96" y="790.10" width="4.10" height="3.70" rx="0.9" fill="#161616"/>
<rect x="344.33" y="790.10" width="4.10" height="3.70" rx="0.9" fill="#161616"/>
<rect x="349.70" y="790.10" width="4.10" height="3.70" rx="0.9" fill="#161616"/>
<rect x="355.07" y="790.10" width="4.10" height="3.70" rx="0.9" fill="#161616"/>
<rect x="360.44" y="790.10" width="4.10" height="3.70" rx="0.9" fill="#161616"/>
<rect x="365.81" y="790.10" width="4.10" height="3.70" rx="0.9" fill="#161616"/>
<rect x="371.18" y="790.10" width="4.10" height="3.70" rx="0.9" fill="#161616"/>
<rect x="376.55" y="790.10" width="4.10" height="3.70" rx="0.9" fill="#161616"/>
<rect x="381.92" y="790.10" width="4.10" height="3.70" rx="0.9" fill="#161616"/>
<rect x="387.29" y="790.10" width="4.10" height="3.70" rx="0.9" fill="#161616"/>
<rect x="392.66" y="790.10" width="4.10" height="3.70" rx="0.9" fill="#161616"/>
<rect x="398.03" y="790.10" width="4.10" height="3.70" rx="0.9" fill="#161616"/>
<rect x="403.40" y="790.10" width="4.10" height="3.70" rx="0.9" fill="#161616"/>
<rect x="408.77" y="790.10" width="4.10" height="3.70" rx="0.9" fill="#161616"/>
<rect x="414.14" y="790.10" width="4.10" height="3.70" rx="0.9" fill="#161616"/>
<rect x="419.51" y="790.10" width="4.10" height="3.70" rx="0.9" fill="#161616"/>
<rect x="424.88" y="790.10" width="4.10" height="3.70" rx="0.9" fill="#161616"/>
<rect x="430.25" y="790.10" width="4.10" height="3.70" rx="0.9" fill="#161616"/>
<rect x="435.62" y="790.10" width="4.10" height="3.70" rx="0.9" fill="#161616"/>
<rect x="440.99" y="790.10" width="4.10" height="3.70" rx="0.9" fill="#161616"/>
<rect x="296.00" y="810.20" width="4.10" height="3.70" rx="0.9" fill="#161616"/>
<rect x="301.37" y="810.20" width="4.10" height="3.70" rx="0.9" fill="#161616"/>
<rect x="306.74" y="810.20" width="4.10" height="3.70" rx="0.9" fill="#161616"/>
<rect x="312.11" y="810.20" width="4.10" height="3.70" rx="0.9" fill="#161616"/>
<rect x="317.48" y="810.20" width="4.10" height="3.70" rx="0.9" fill="#161616"/>
<rect x="322.85" y="810.20" width="4.10" height="3.70" rx="0.9" fill="#161616"/>
<rect x="328.22" y="810.20" width="4.10" height="3.70" rx="0.9" fill="#161616"/>
<rect x="333.59" y="810.20" width="4.10" height="3.70" rx="0.9" fill="#161616"/>
<rect x="338.96" y="810.20" width="4.10" height="3.70" rx="0.9" fill="#161616"/>
<rect x="344.33" y="810.20" width="4.10" height="3.70" rx="0.9" fill="#161616"/>
<rect x="349.70" y="810.20" width="4.10" height="3.70" rx="0.9" fill="#161616"/>
<rect x="355.07" y="810.20" width="4.10" height="3.70" rx="0.9" fill="#161616"/>
<rect x="360.44" y="810.20" width="4.10" height="3.70" rx="0.9" fill="#161616"/>
<rect x="365.81" y="810.20" width="4.10" height="3.70" rx="0.9" fill="#161616"/>
<rect x="371.18" y="810.20" width="4.10" height="3.70" rx="0.9" fill="#161616"/>
<rect x="376.55" y="810.20" width="4.10" height="3.70" rx="0.9" fill="#161616"/>
<rect x="381.92" y="810.20" width="4.10" height="3.70" rx="0.9" fill="#161616"/>
<rect x="387.29" y="810.20" width="4.10" height="3.70" rx="0.9" fill="#161616"/>
<rect x="392.66" y="810.20" width="4.10" height="3.70" rx="0.9" fill="#161616"/>
<rect x="398.03" y="810.20" width="4.10" height="3.70" rx="0.9" fill="#161616"/>
<rect x="403.40" y="810.20" width="4.10" height="3.70" rx="0.9" fill="#161616"/>
<rect x="408.77" y="810.20" width="4.10" height="3.70" rx="0.9" fill="#161616"/>
<rect x="414.14" y="810.20" width="4.10" height="3.70" rx="0.9" fill="#161616"/>
<rect x="419.51" y="810.20" width="4.10" height="3.70" rx="0.9" fill="#161616"/>
<rect x="424.88" y="810.20" width="4.10" height="3.70" rx="0.9" fill="#161616"/>
<rect x="430.25" y="810.20" width="4.10" height="3.70" rx="0.9" fill="#161616"/>
<rect x="435.62" y="810.20" width="4.10" height="3.70" rx="0.9" fill="#161616"/>
<rect x="440.99" y="810.20" width="4.10" height="3.70" rx="0.9" fill="#161616"/>
<rect x="296.00" y="815.30" width="4.10" height="3.70" rx="0.9" fill="#161616"/>
<rect x="301.37" y="815.30" width="4.10" height="3.70" rx="0.9" fill="#161616"/>
<rect x="306.74" y="815.30" width="4.10" height="3.70" rx="0.9" fill="#161616"/>
<rect x="312.11" y="815.30" width="4.10" height="3.70" rx="0.9" fill="#161616"/>
<rect x="317.48" y="815.30" width="4.10" height="3.70" rx="0.9" fill="#161616"/>
<rect x="322.85" y="815.30" width="4.10" height="3.70" rx="0.9" fill="#161616"/>
<rect x="328.22" y="815.30" width="4.10" height="3.70" rx="0.9" fill="#161616"/>
<rect x="333.59" y="815.30" width="4.10" height="3.70" rx="0.9" fill="#161616"/>
<rect x="338.96" y="815.30" width="4.10" height="3.70" rx="0.9" fill="#161616"/>
<rect x="344.33" y="815.30" width="4.10" height="3.70" rx="0.9" fill="#161616"/>
<rect x="349.70" y="815.30" width="4.10" height="3.70" rx="0.9" fill="#161616"/>
<rect x="355.07" y="815.30" width="4.10" height="3.70" rx="0.9" fill="#161616"/>
<rect x="360.44" y="815.30" width="4.10" height="3.70" rx="0.9" fill="#161616"/>
<rect x="365.81" y="815.30" width="4.10" height="3.70" rx="0.9" fill="#161616"/>
<rect x="371.18" y="815.30" width="4.10" height="3.70" rx="0.9" fill="#161616"/>
<rect x="376.55" y="815.30" width="4.10" height="3.70" rx="0.9" fill="#161616"/>
<rect x="381.92" y="815.30" width="4.10" height="3.70" rx="0.9" fill="#161616"/>
<rect x="387.29" y="815.30" width="4.10" height="3.70" rx="0.9" fill="#161616"/>
<rect x="392.66" y="815.30" width="4.10" height="3.70" rx="0.9" fill="#161616"/>
<rect x="398.03" y="815.30" width="4.10" height="3.70" rx="0.9" fill="#161616"/>
<rect x="403.40" y="815.30" width="4.10" height="3.70" rx="0.9" fill="#161616"/>
<rect x="408.77" y="815.30" width="4.10" height="3.70" rx="0.9" fill="#161616"/>
<rect x="414.14" y="815.30" width="4.10" height="3.70" rx="0.9" fill="#161616"/>
<rect x="419.51" y="815.30" width="4.10" height="3.70" rx="0.9" fill="#161616"/>
<rect x="424.88" y="815.30" width="4.10" height="3.70" rx="0.9" fill="#161616"/>
<rect x="430.25" y="815.30" width="4.10" height="3.70" rx="0.9" fill="#161616"/>
<rect x="435.62" y="815.30" width="4.10" height="3.70" rx="0.9" fill="#161616"/>
<rect x="440.99" y="815.30" width="4.10" height="3.70" rx="0.9" fill="#161616"/>
<rect x="296.00" y="835.00" width="4.10" height="3.70" rx="0.9" fill="#161616"/>
<rect x="301.37" y="835.00" width="4.10" height="3.70" rx="0.9" fill="#161616"/>
<rect x="306.74" y="835.00" width="4.10" height="3.70" rx="0.9" fill="#161616"/>
<rect x="312.11" y="835.00" width="4.10" height="3.70" rx="0.9" fill="#161616"/>
<rect x="317.48" y="835.00" width="4.10" height="3.70" rx="0.9" fill="#161616"/>
<rect x="322.85" y="835.00" width="4.10" height="3.70" rx="0.9" fill="#161616"/>
<rect x="328.22" y="835.00" width="4.10" height="3.70" rx="0.9" fill="#161616"/>
<rect x="333.59" y="835.00" width="4.10" height="3.70" rx="0.9" fill="#161616"/>
<rect x="338.96" y="835.00" width="4.10" height="3.70" rx="0.9" fill="#161616"/>
<rect x="344.33" y="835.00" width="4.10" height="3.70" rx="0.9" fill="#161616"/>
<rect x="349.70" y="835.00" width="4.10" height="3.70" rx="0.9" fill="#161616"/>
<rect x="355.07" y="835.00" width="4.10" height="3.70" rx="0.9" fill="#161616"/>
<rect x="360.44" y="835.00" width="4.10" height="3.70" rx="0.9" fill="#161616"/>
<rect x="365.81" y="835.00" width="4.10" height="3.70" rx="0.9" fill="#161616"/>
<rect x="371.18" y="835.00" width="4.10" height="3.70" rx="0.9" fill="#161616"/>
<rect x="376.55" y="835.00" width="4.10" height="3.70" rx="0.9" fill="#161616"/>
<rect x="381.92" y="835.00" width="4.10" height="3.70" rx="0.9" fill="#161616"/>
<rect x="387.29" y="835.00" width="4.10" height="3.70" rx="0.9" fill="#161616"/>
<rect x="392.66" y="835.00" width="4.10" height="3.70" rx="0.9" fill="#161616"/>
<rect x="398.03" y="835.00" width="4.10" height="3.70" rx="0.9" fill="#161616"/>
<rect x="403.40" y="835.00" width="4.10" height="3.70" rx="0.9" fill="#161616"/>
<rect x="408.77" y="835.00" width="4.10" height="3.70" rx="0.9" fill="#161616"/>
<rect x="414.14" y="835.00" width="4.10" height="3.70" rx="0.9" fill="#161616"/>
<rect x="419.51" y="835.00" width="4.10" height="3.70" rx="0.9" fill="#161616"/>
<rect x="424.88" y="835.00" width="4.10" height="3.70" rx="0.9" fill="#161616"/>
<rect x="430.25" y="835.00" width="4.10" height="3.70" rx="0.9" fill="#161616"/>
<rect x="435.62" y="835.00" width="4.10" height="3.70" rx="0.9" fill="#161616"/>
<rect x="440.99" y="835.00" width="4.10" height="3.70" rx="0.9" fill="#161616"/>
<rect x="296.00" y="840.00" width="4.10" height="3.70" rx="0.9" fill="#161616"/>
<rect x="301.37" y="840.00" width="4.10" height="3.70" rx="0.9" fill="#161616"/>
<rect x="306.74" y="840.00" width="4.10" height="3.70" rx="0.9" fill="#161616"/>
<rect x="312.11" y="840.00" width="4.10" height="3.70" rx="0.9" fill="#161616"/>
<rect x="317.48" y="840.00" width="4.10" height="3.70" rx="0.9" fill="#161616"/>
<rect x="322.85" y="840.00" width="4.10" height="3.70" rx="0.9" fill="#161616"/>
<rect x="328.22" y="840.00" width="4.10" height="3.70" rx="0.9" fill="#161616"/>
<rect x="333.59" y="840.00" width="4.10" height="3.70" rx="0.9" fill="#161616"/>
<rect x="338.96" y="840.00" width="4.10" height="3.70" rx="0.9" fill="#161616"/>
<rect x="344.33" y="840.00" width="4.10" height="3.70" rx="0.9" fill="#161616"/>
<rect x="349.70" y="840.00" width="4.10" height="3.70" rx="0.9" fill="#161616"/>
<rect x="355.07" y="840.00" width="4.10" height="3.70" rx="0.9" fill="#161616"/>
<rect x="360.44" y="840.00" width="4.10" height="3.70" rx="0.9" fill="#161616"/>
<rect x="365.81" y="840.00" width="4.10" height="3.70" rx="0.9" fill="#161616"/>
<rect x="371.18" y="840.00" width="4.10" height="3.70" rx="0.9" fill="#161616"/>
<rect x="376.55" y="840.00" width="4.10" height="3.70" rx="0.9" fill="#161616"/>
<rect x="381.92" y="840.00" width="4.10" height="3.70" rx="0.9" fill="#161616"/>
<rect x="387.29" y="840.00" width="4.10" height="3.70" rx="0.9" fill="#161616"/>
<rect x="392.66" y="840.00" width="4.10" height="3.70" rx="0.9" fill="#161616"/>
<rect x="398.03" y="840.00" width="4.10" height="3.70" rx="0.9" fill="#161616"/>
<rect x="403.40" y="840.00" width="4.10" height="3.70" rx="0.9" fill="#161616"/>
<rect x="408.77" y="840.00" width="4.10" height="3.70" rx="0.9" fill="#161616"/>
<rect x="414.14" y="840.00" width="4.10" height="3.70" rx="0.9" fill="#161616"/>
<rect x="419.51" y="840.00" width="4.10" height="3.70" rx="0.9" fill="#161616"/>
<rect x="424.88" y="840.00" width="4.10" height="3.70" rx="0.9" fill="#161616"/>
<rect x="430.25" y="840.00" width="4.10" height="3.70" rx="0.9" fill="#161616"/>
<rect x="435.62" y="840.00" width="4.10" height="3.70" rx="0.9" fill="#161616"/>
<rect x="440.99" y="840.00" width="4.10" height="3.70" rx="0.9" fill="#161616"/>
<rect x="446.6" y="770" width="19.4" height="88" fill="#fafbfc" stroke="#d5dae0" stroke-width="0.6"/>
<rect x="448.2" y="791" width="14.6" height="2.4" rx="0.6" fill="#2a2a2a"/>
<rect x="450.5" y="791.8" width="10" height="0.8" fill="#bbb"/>
<rect x="448.2" y="821.4" width="14.6" height="2.4" rx="0.6" fill="#2a2a2a"/>
<rect x="450.5" y="822.2" width="10" height="0.8" fill="#bbb"/>
<path d="M449 778 Q455.5 784 462 778" fill="none" stroke="#aaa" stroke-width="0.6"/>
<circle cx="456" cy="810.4" r="4.5" fill="none" stroke="#999" stroke-width="0.7"/>
<rect x="465.3" y="769.5" width="221" height="57" fill="#fcfcfc" stroke="#d0d5dc" stroke-width="0.6"/>
<rect x="471.50" y="772.10" width="4.0" height="4.0" rx="0.9" fill="#0a0a0a"/>
<rect x="477.26" y="772.10" width="4.0" height="4.0" rx="0.9" fill="#0a0a0a"/>
<rect x="483.02" y="772.10" width="4.0" height="4.0" rx="0.9" fill="#0a0a0a"/>
<rect x="488.78" y="772.10" width="4.0" height="4.0" rx="0.9" fill="#0a0a0a"/>
<rect x="494.54" y="772.10" width="4.0" height="4.0" rx="0.9" fill="#0a0a0a"/>
<rect x="500.30" y="772.10" width="4.0" height="4.0" rx="0.9" fill="#0a0a0a"/>
<rect x="506.06" y="772.10" width="4.0" height="4.0" rx="0.9" fill="#0a0a0a"/>
<rect x="511.82" y="772.10" width="4.0" height="4.0" rx="0.9" fill="#0a0a0a"/>
<rect x="517.58" y="772.10" width="4.0" height="4.0" rx="0.9" fill="#0a0a0a"/>
<rect x="523.34" y="772.10" width="4.0" height="4.0" rx="0.9" fill="#0a0a0a"/>
<rect x="529.10" y="772.10" width="4.0" height="4.0" rx="0.9" fill="#0a0a0a"/>
<rect x="534.86" y="772.10" width="4.0" height="4.0" rx="0.9" fill="#0a0a0a"/>
<rect x="540.62" y="772.10" width="4.0" height="4.0" rx="0.9" fill="#0a0a0a"/>
<rect x="546.38" y="772.10" width="4.0" height="4.0" rx="0.9" fill="#0a0a0a"/>
<rect x="552.14" y="772.10" width="4.0" height="4.0" rx="0.9" fill="#0a0a0a"/>
<rect x="557.90" y="772.10" width="4.0" height="4.0" rx="0.9" fill="#0a0a0a"/>
<rect x="563.66" y="772.10" width="4.0" height="4.0" rx="0.9" fill="#0a0a0a"/>
<rect x="569.42" y="772.10" width="4.0" height="4.0" rx="0.9" fill="#0a0a0a"/>
<rect x="575.18" y="772.10" width="4.0" height="4.0" rx="0.9" fill="#0a0a0a"/>
<rect x="580.94" y="772.10" width="4.0" height="4.0" rx="0.9" fill="#0a0a0a"/>
<rect x="586.70" y="772.10" width="4.0" height="4.0" rx="0.9" fill="#0a0a0a"/>
<rect x="592.46" y="772.10" width="4.0" height="4.0" rx="0.9" fill="#0a0a0a"/>
<rect x="598.22" y="772.10" width="4.0" height="4.0" rx="0.9" fill="#0a0a0a"/>
<rect x="603.98" y="772.10" width="4.0" height="4.0" rx="0.9" fill="#0a0a0a"/>
<rect x="609.74" y="772.10" width="4.0" height="4.0" rx="0.9" fill="#0a0a0a"/>
<rect x="615.50" y="772.10" width="4.0" height="4.0" rx="0.9" fill="#0a0a0a"/>
<rect x="621.26" y="772.10" width="4.0" height="4.0" rx="0.9" fill="#0a0a0a"/>
<rect x="627.02" y="772.10" width="4.0" height="4.0" rx="0.9" fill="#0a0a0a"/>
<rect x="632.78" y="772.10" width="4.0" height="4.0" rx="0.9" fill="#0a0a0a"/>
<rect x="638.54" y="772.10" width="4.0" height="4.0" rx="0.9" fill="#0a0a0a"/>
<rect x="644.30" y="772.10" width="4.0" height="4.0" rx="0.9" fill="#0a0a0a"/>
<rect x="650.06" y="772.10" width="4.0" height="4.0" rx="0.9" fill="#0a0a0a"/>
<rect x="655.82" y="772.10" width="4.0" height="4.0" rx="0.9" fill="#0a0a0a"/>
<rect x="661.58" y="772.10" width="4.0" height="4.0" rx="0.9" fill="#0a0a0a"/>
<rect x="667.34" y="772.10" width="4.0" height="4.0" rx="0.9" fill="#0a0a0a"/>
<rect x="673.10" y="772.10" width="4.0" height="4.0" rx="0.9" fill="#0a0a0a"/>
<rect x="471.50" y="777.85" width="4.0" height="4.0" rx="0.9" fill="#0a0a0a"/>
<rect x="477.26" y="777.85" width="4.0" height="4.0" rx="0.9" fill="#0a0a0a"/>
<rect x="483.02" y="777.85" width="4.0" height="4.0" rx="0.9" fill="#0a0a0a"/>
<rect x="488.78" y="777.85" width="4.0" height="4.0" rx="0.9" fill="#0a0a0a"/>
<rect x="494.54" y="777.85" width="4.0" height="4.0" rx="0.9" fill="#0a0a0a"/>
<rect x="500.30" y="777.85" width="4.0" height="4.0" rx="0.9" fill="#0a0a0a"/>
<rect x="506.06" y="777.85" width="4.0" height="4.0" rx="0.9" fill="#0a0a0a"/>
<rect x="511.82" y="777.85" width="4.0" height="4.0" rx="0.9" fill="#0a0a0a"/>
<rect x="517.58" y="777.85" width="4.0" height="4.0" rx="0.9" fill="#0a0a0a"/>
<rect x="523.34" y="777.85" width="4.0" height="4.0" rx="0.9" fill="#0a0a0a"/>
<rect x="529.10" y="777.85" width="4.0" height="4.0" rx="0.9" fill="#0a0a0a"/>
<rect x="534.86" y="777.85" width="4.0" height="4.0" rx="0.9" fill="#0a0a0a"/>
<rect x="540.62" y="777.85" width="4.0" height="4.0" rx="0.9" fill="#0a0a0a"/>
<rect x="546.38" y="777.85" width="4.0" height="4.0" rx="0.9" fill="#0a0a0a"/>
<rect x="552.14" y="777.85" width="4.0" height="4.0" rx="0.9" fill="#0a0a0a"/>
<rect x="557.90" y="777.85" width="4.0" height="4.0" rx="0.9" fill="#0a0a0a"/>
<rect x="563.66" y="777.85" width="4.0" height="4.0" rx="0.9" fill="#0a0a0a"/>
<rect x="569.42" y="777.85" width="4.0" height="4.0" rx="0.9" fill="#0a0a0a"/>
<rect x="575.18" y="777.85" width="4.0" height="4.0" rx="0.9" fill="#0a0a0a"/>
<rect x="580.94" y="777.85" width="4.0" height="4.0" rx="0.9" fill="#0a0a0a"/>
<rect x="586.70" y="777.85" width="4.0" height="4.0" rx="0.9" fill="#0a0a0a"/>
<rect x="592.46" y="777.85" width="4.0" height="4.0" rx="0.9" fill="#0a0a0a"/>
<rect x="598.22" y="777.85" width="4.0" height="4.0" rx="0.9" fill="#0a0a0a"/>
<rect x="603.98" y="777.85" width="4.0" height="4.0" rx="0.9" fill="#0a0a0a"/>
<rect x="609.74" y="777.85" width="4.0" height="4.0" rx="0.9" fill="#0a0a0a"/>
<rect x="615.50" y="777.85" width="4.0" height="4.0" rx="0.9" fill="#0a0a0a"/>
<rect x="621.26" y="777.85" width="4.0" height="4.0" rx="0.9" fill="#0a0a0a"/>
<rect x="627.02" y="777.85" width="4.0" height="4.0" rx="0.9" fill="#0a0a0a"/>
<rect x="632.78" y="777.85" width="4.0" height="4.0" rx="0.9" fill="#0a0a0a"/>
<rect x="638.54" y="777.85" width="4.0" height="4.0" rx="0.9" fill="#0a0a0a"/>
<rect x="644.30" y="777.85" width="4.0" height="4.0" rx="0.9" fill="#0a0a0a"/>
<rect x="650.06" y="777.85" width="4.0" height="4.0" rx="0.9" fill="#0a0a0a"/>
<rect x="655.82" y="777.85" width="4.0" height="4.0" rx="0.9" fill="#0a0a0a"/>
<rect x="661.58" y="777.85" width="4.0" height="4.0" rx="0.9" fill="#0a0a0a"/>
<rect x="667.34" y="777.85" width="4.0" height="4.0" rx="0.9" fill="#0a0a0a"/>
<rect x="673.10" y="777.85" width="4.0" height="4.0" rx="0.9" fill="#0a0a0a"/>
<rect x="471.50" y="783.60" width="4.0" height="4.0" rx="0.9" fill="#0a0a0a"/>
<rect x="477.26" y="783.60" width="4.0" height="4.0" rx="0.9" fill="#0a0a0a"/>
<rect x="483.02" y="783.60" width="4.0" height="4.0" rx="0.9" fill="#0a0a0a"/>
<rect x="488.78" y="783.60" width="4.0" height="4.0" rx="0.9" fill="#0a0a0a"/>
<rect x="494.54" y="783.60" width="4.0" height="4.0" rx="0.9" fill="#0a0a0a"/>
<rect x="500.30" y="783.60" width="4.0" height="4.0" rx="0.9" fill="#0a0a0a"/>
<rect x="506.06" y="783.60" width="4.0" height="4.0" rx="0.9" fill="#0a0a0a"/>
<rect x="511.82" y="783.60" width="4.0" height="4.0" rx="0.9" fill="#0a0a0a"/>
<rect x="517.58" y="783.60" width="4.0" height="4.0" rx="0.9" fill="#0a0a0a"/>
<rect x="523.34" y="783.60" width="4.0" height="4.0" rx="0.9" fill="#0a0a0a"/>
<rect x="529.10" y="783.60" width="4.0" height="4.0" rx="0.9" fill="#0a0a0a"/>
<rect x="534.86" y="783.60" width="4.0" height="4.0" rx="0.9" fill="#0a0a0a"/>
<rect x="540.62" y="783.60" width="4.0" height="4.0" rx="0.9" fill="#0a0a0a"/>
<rect x="546.38" y="783.60" width="4.0" height="4.0" rx="0.9" fill="#0a0a0a"/>
<rect x="552.14" y="783.60" width="4.0" height="4.0" rx="0.9" fill="#0a0a0a"/>
<rect x="557.90" y="783.60" width="4.0" height="4.0" rx="0.9" fill="#0a0a0a"/>
<rect x="563.66" y="783.60" width="4.0" height="4.0" rx="0.9" fill="#0a0a0a"/>
<rect x="569.42" y="783.60" width="4.0" height="4.0" rx="0.9" fill="#0a0a0a"/>
<rect x="575.18" y="783.60" width="4.0" height="4.0" rx="0.9" fill="#0a0a0a"/>
<rect x="580.94" y="783.60" width="4.0" height="4.0" rx="0.9" fill="#0a0a0a"/>
<rect x="586.70" y="783.60" width="4.0" height="4.0" rx="0.9" fill="#0a0a0a"/>
<rect x="592.46" y="783.60" width="4.0" height="4.0" rx="0.9" fill="#0a0a0a"/>
<rect x="598.22" y="783.60" width="4.0" height="4.0" rx="0.9" fill="#0a0a0a"/>
<rect x="603.98" y="783.60" width="4.0" height="4.0" rx="0.9" fill="#0a0a0a"/>
<rect x="609.74" y="783.60" width="4.0" height="4.0" rx="0.9" fill="#0a0a0a"/>
<rect x="615.50" y="783.60" width="4.0" height="4.0" rx="0.9" fill="#0a0a0a"/>
<rect x="621.26" y="783.60" width="4.0" height="4.0" rx="0.9" fill="#0a0a0a"/>
<rect x="627.02" y="783.60" width="4.0" height="4.0" rx="0.9" fill="#0a0a0a"/>
<rect x="632.78" y="783.60" width="4.0" height="4.0" rx="0.9" fill="#0a0a0a"/>
<rect x="638.54" y="783.60" width="4.0" height="4.0" rx="0.9" fill="#0a0a0a"/>
<rect x="644.30" y="783.60" width="4.0" height="4.0" rx="0.9" fill="#0a0a0a"/>
<rect x="650.06" y="783.60" width="4.0" height="4.0" rx="0.9" fill="#0a0a0a"/>
<rect x="655.82" y="783.60" width="4.0" height="4.0" rx="0.9" fill="#0a0a0a"/>
<rect x="661.58" y="783.60" width="4.0" height="4.0" rx="0.9" fill="#0a0a0a"/>
<rect x="667.34" y="783.60" width="4.0" height="4.0" rx="0.9" fill="#0a0a0a"/>
<rect x="673.10" y="783.60" width="4.0" height="4.0" rx="0.9" fill="#0a0a0a"/>
<rect x="471.50" y="789.35" width="4.0" height="4.0" rx="0.9" fill="#0a0a0a"/>
<rect x="477.26" y="789.35" width="4.0" height="4.0" rx="0.9" fill="#0a0a0a"/>
<rect x="483.02" y="789.35" width="4.0" height="4.0" rx="0.9" fill="#0a0a0a"/>
<rect x="488.78" y="789.35" width="4.0" height="4.0" rx="0.9" fill="#0a0a0a"/>
<rect x="494.54" y="789.35" width="4.0" height="4.0" rx="0.9" fill="#0a0a0a"/>
<rect x="500.30" y="789.35" width="4.0" height="4.0" rx="0.9" fill="#0a0a0a"/>
<rect x="506.06" y="789.35" width="4.0" height="4.0" rx="0.9" fill="#0a0a0a"/>
<rect x="511.82" y="789.35" width="4.0" height="4.0" rx="0.9" fill="#0a0a0a"/>
<rect x="517.58" y="789.35" width="4.0" height="4.0" rx="0.9" fill="#0a0a0a"/>
<rect x="523.34" y="789.35" width="4.0" height="4.0" rx="0.9" fill="#0a0a0a"/>
<rect x="529.10" y="789.35" width="4.0" height="4.0" rx="0.9" fill="#0a0a0a"/>
<rect x="534.86" y="789.35" width="4.0" height="4.0" rx="0.9" fill="#0a0a0a"/>
<rect x="540.62" y="789.35" width="4.0" height="4.0" rx="0.9" fill="#0a0a0a"/>
<rect x="546.38" y="789.35" width="4.0" height="4.0" rx="0.9" fill="#0a0a0a"/>
<rect x="552.14" y="789.35" width="4.0" height="4.0" rx="0.9" fill="#0a0a0a"/>
<rect x="557.90" y="789.35" width="4.0" height="4.0" rx="0.9" fill="#0a0a0a"/>
<rect x="563.66" y="789.35" width="4.0" height="4.0" rx="0.9" fill="#0a0a0a"/>
<rect x="569.42" y="789.35" width="4.0" height="4.0" rx="0.9" fill="#0a0a0a"/>
<rect x="575.18" y="789.35" width="4.0" height="4.0" rx="0.9" fill="#0a0a0a"/>
<rect x="580.94" y="789.35" width="4.0" height="4.0" rx="0.9" fill="#0a0a0a"/>
<rect x="586.70" y="789.35" width="4.0" height="4.0" rx="0.9" fill="#0a0a0a"/>
<rect x="592.46" y="789.35" width="4.0" height="4.0" rx="0.9" fill="#0a0a0a"/>
<rect x="598.22" y="789.35" width="4.0" height="4.0" rx="0.9" fill="#0a0a0a"/>
<rect x="603.98" y="789.35" width="4.0" height="4.0" rx="0.9" fill="#0a0a0a"/>
<rect x="609.74" y="789.35" width="4.0" height="4.0" rx="0.9" fill="#0a0a0a"/>
<rect x="615.50" y="789.35" width="4.0" height="4.0" rx="0.9" fill="#0a0a0a"/>
<rect x="621.26" y="789.35" width="4.0" height="4.0" rx="0.9" fill="#0a0a0a"/>
<rect x="627.02" y="789.35" width="4.0" height="4.0" rx="0.9" fill="#0a0a0a"/>
<rect x="632.78" y="789.35" width="4.0" height="4.0" rx="0.9" fill="#0a0a0a"/>
<rect x="638.54" y="789.35" width="4.0" height="4.0" rx="0.9" fill="#0a0a0a"/>
<rect x="644.30" y="789.35" width="4.0" height="4.0" rx="0.9" fill="#0a0a0a"/>
<rect x="650.06" y="789.35" width="4.0" height="4.0" rx="0.9" fill="#0a0a0a"/>
<rect x="655.82" y="789.35" width="4.0" height="4.0" rx="0.9" fill="#0a0a0a"/>
<rect x="661.58" y="789.35" width="4.0" height="4.0" rx="0.9" fill="#0a0a0a"/>
<rect x="667.34" y="789.35" width="4.0" height="4.0" rx="0.9" fill="#0a0a0a"/>
<rect x="673.10" y="789.35" width="4.0" height="4.0" rx="0.9" fill="#0a0a0a"/>
<rect x="471.50" y="795.10" width="4.0" height="4.0" rx="0.9" fill="#0a0a0a"/>
<rect x="477.26" y="795.10" width="4.0" height="4.0" rx="0.9" fill="#0a0a0a"/>
<rect x="483.02" y="795.10" width="4.0" height="4.0" rx="0.9" fill="#0a0a0a"/>
<rect x="488.78" y="795.10" width="4.0" height="4.0" rx="0.9" fill="#0a0a0a"/>
<rect x="494.54" y="795.10" width="4.0" height="4.0" rx="0.9" fill="#0a0a0a"/>
<rect x="500.30" y="795.10" width="4.0" height="4.0" rx="0.9" fill="#0a0a0a"/>
<rect x="506.06" y="795.10" width="4.0" height="4.0" rx="0.9" fill="#0a0a0a"/>
<rect x="511.82" y="795.10" width="4.0" height="4.0" rx="0.9" fill="#0a0a0a"/>
<rect x="517.58" y="795.10" width="4.0" height="4.0" rx="0.9" fill="#0a0a0a"/>
<rect x="523.34" y="795.10" width="4.0" height="4.0" rx="0.9" fill="#0a0a0a"/>
<rect x="529.10" y="795.10" width="4.0" height="4.0" rx="0.9" fill="#0a0a0a"/>
<rect x="534.86" y="795.10" width="4.0" height="4.0" rx="0.9" fill="#0a0a0a"/>
<rect x="540.62" y="795.10" width="4.0" height="4.0" rx="0.9" fill="#0a0a0a"/>
<rect x="546.38" y="795.10" width="4.0" height="4.0" rx="0.9" fill="#0a0a0a"/>
<rect x="552.14" y="795.10" width="4.0" height="4.0" rx="0.9" fill="#0a0a0a"/>
<rect x="557.90" y="795.10" width="4.0" height="4.0" rx="0.9" fill="#0a0a0a"/>
<rect x="563.66" y="795.10" width="4.0" height="4.0" rx="0.9" fill="#0a0a0a"/>
<rect x="569.42" y="795.10" width="4.0" height="4.0" rx="0.9" fill="#0a0a0a"/>
<rect x="575.18" y="795.10" width="4.0" height="4.0" rx="0.9" fill="#0a0a0a"/>
<rect x="580.94" y="795.10" width="4.0" height="4.0" rx="0.9" fill="#0a0a0a"/>
<rect x="586.70" y="795.10" width="4.0" height="4.0" rx="0.9" fill="#0a0a0a"/>
<rect x="592.46" y="795.10" width="4.0" height="4.0" rx="0.9" fill="#0a0a0a"/>
<rect x="598.22" y="795.10" width="4.0" height="4.0" rx="0.9" fill="#0a0a0a"/>
<rect x="603.98" y="795.10" width="4.0" height="4.0" rx="0.9" fill="#0a0a0a"/>
<rect x="609.74" y="795.10" width="4.0" height="4.0" rx="0.9" fill="#0a0a0a"/>
<rect x="615.50" y="795.10" width="4.0" height="4.0" rx="0.9" fill="#0a0a0a"/>
<rect x="621.26" y="795.10" width="4.0" height="4.0" rx="0.9" fill="#0a0a0a"/>
<rect x="627.02" y="795.10" width="4.0" height="4.0" rx="0.9" fill="#0a0a0a"/>
<rect x="632.78" y="795.10" width="4.0" height="4.0" rx="0.9" fill="#0a0a0a"/>
<rect x="638.54" y="795.10" width="4.0" height="4.0" rx="0.9" fill="#0a0a0a"/>
<rect x="644.30" y="795.10" width="4.0" height="4.0" rx="0.9" fill="#0a0a0a"/>
<rect x="650.06" y="795.10" width="4.0" height="4.0" rx="0.9" fill="#0a0a0a"/>
<rect x="655.82" y="795.10" width="4.0" height="4.0" rx="0.9" fill="#0a0a0a"/>
<rect x="661.58" y="795.10" width="4.0" height="4.0" rx="0.9" fill="#0a0a0a"/>
<rect x="667.34" y="795.10" width="4.0" height="4.0" rx="0.9" fill="#0a0a0a"/>
<rect x="673.10" y="795.10" width="4.0" height="4.0" rx="0.9" fill="#0a0a0a"/>
<rect x="471.50" y="800.85" width="4.0" height="4.0" rx="0.9" fill="#0a0a0a"/>
<rect x="477.26" y="800.85" width="4.0" height="4.0" rx="0.9" fill="#0a0a0a"/>
<rect x="483.02" y="800.85" width="4.0" height="4.0" rx="0.9" fill="#0a0a0a"/>
<rect x="488.78" y="800.85" width="4.0" height="4.0" rx="0.9" fill="#0a0a0a"/>
<rect x="494.54" y="800.85" width="4.0" height="4.0" rx="0.9" fill="#0a0a0a"/>
<rect x="500.30" y="800.85" width="4.0" height="4.0" rx="0.9" fill="#0a0a0a"/>
<rect x="506.06" y="800.85" width="4.0" height="4.0" rx="0.9" fill="#0a0a0a"/>
<rect x="511.82" y="800.85" width="4.0" height="4.0" rx="0.9" fill="#0a0a0a"/>
<rect x="517.58" y="800.85" width="4.0" height="4.0" rx="0.9" fill="#0a0a0a"/>
<rect x="523.34" y="800.85" width="4.0" height="4.0" rx="0.9" fill="#0a0a0a"/>
<rect x="529.10" y="800.85" width="4.0" height="4.0" rx="0.9" fill="#0a0a0a"/>
<rect x="534.86" y="800.85" width="4.0" height="4.0" rx="0.9" fill="#0a0a0a"/>
<rect x="540.62" y="800.85" width="4.0" height="4.0" rx="0.9" fill="#0a0a0a"/>
<rect x="546.38" y="800.85" width="4.0" height="4.0" rx="0.9" fill="#0a0a0a"/>
<rect x="552.14" y="800.85" width="4.0" height="4.0" rx="0.9" fill="#0a0a0a"/>
<rect x="557.90" y="800.85" width="4.0" height="4.0" rx="0.9" fill="#0a0a0a"/>
<rect x="563.66" y="800.85" width="4.0" height="4.0" rx="0.9" fill="#0a0a0a"/>
<rect x="569.42" y="800.85" width="4.0" height="4.0" rx="0.9" fill="#0a0a0a"/>
<rect x="575.18" y="800.85" width="4.0" height="4.0" rx="0.9" fill="#0a0a0a"/>
<rect x="580.94" y="800.85" width="4.0" height="4.0" rx="0.9" fill="#0a0a0a"/>
<rect x="586.70" y="800.85" width="4.0" height="4.0" rx="0.9" fill="#0a0a0a"/>
<rect x="592.46" y="800.85" width="4.0" height="4.0" rx="0.9" fill="#0a0a0a"/>
<rect x="598.22" y="800.85" width="4.0" height="4.0" rx="0.9" fill="#0a0a0a"/>
<rect x="603.98" y="800.85" width="4.0" height="4.0" rx="0.9" fill="#0a0a0a"/>
<rect x="609.74" y="800.85" width="4.0" height="4.0" rx="0.9" fill="#0a0a0a"/>
<rect x="615.50" y="800.85" width="4.0" height="4.0" rx="0.9" fill="#0a0a0a"/>
<rect x="621.26" y="800.85" width="4.0" height="4.0" rx="0.9" fill="#0a0a0a"/>
<rect x="627.02" y="800.85" width="4.0" height="4.0" rx="0.9" fill="#0a0a0a"/>
<rect x="632.78" y="800.85" width="4.0" height="4.0" rx="0.9" fill="#0a0a0a"/>
<rect x="638.54" y="800.85" width="4.0" height="4.0" rx="0.9" fill="#0a0a0a"/>
<rect x="644.30" y="800.85" width="4.0" height="4.0" rx="0.9" fill="#0a0a0a"/>
<rect x="650.06" y="800.85" width="4.0" height="4.0" rx="0.9" fill="#0a0a0a"/>
<rect x="655.82" y="800.85" width="4.0" height="4.0" rx="0.9" fill="#0a0a0a"/>
<rect x="661.58" y="800.85" width="4.0" height="4.0" rx="0.9" fill="#0a0a0a"/>
<rect x="667.34" y="800.85" width="4.0" height="4.0" rx="0.9" fill="#0a0a0a"/>
<rect x="673.10" y="800.85" width="4.0" height="4.0" rx="0.9" fill="#0a0a0a"/>
<rect x="471.50" y="806.60" width="4.0" height="4.0" rx="0.9" fill="#0a0a0a"/>
<rect x="477.26" y="806.60" width="4.0" height="4.0" rx="0.9" fill="#0a0a0a"/>
<rect x="483.02" y="806.60" width="4.0" height="4.0" rx="0.9" fill="#0a0a0a"/>
<rect x="488.78" y="806.60" width="4.0" height="4.0" rx="0.9" fill="#0a0a0a"/>
<rect x="494.54" y="806.60" width="4.0" height="4.0" rx="0.9" fill="#0a0a0a"/>
<rect x="500.30" y="806.60" width="4.0" height="4.0" rx="0.9" fill="#0a0a0a"/>
<rect x="506.06" y="806.60" width="4.0" height="4.0" rx="0.9" fill="#0a0a0a"/>
<rect x="511.82" y="806.60" width="4.0" height="4.0" rx="0.9" fill="#0a0a0a"/>
<rect x="517.58" y="806.60" width="4.0" height="4.0" rx="0.9" fill="#0a0a0a"/>
<rect x="523.34" y="806.60" width="4.0" height="4.0" rx="0.9" fill="#0a0a0a"/>
<rect x="529.10" y="806.60" width="4.0" height="4.0" rx="0.9" fill="#0a0a0a"/>
<rect x="534.86" y="806.60" width="4.0" height="4.0" rx="0.9" fill="#0a0a0a"/>
<rect x="540.62" y="806.60" width="4.0" height="4.0" rx="0.9" fill="#0a0a0a"/>
<rect x="546.38" y="806.60" width="4.0" height="4.0" rx="0.9" fill="#0a0a0a"/>
<rect x="552.14" y="806.60" width="4.0" height="4.0" rx="0.9" fill="#0a0a0a"/>
<rect x="557.90" y="806.60" width="4.0" height="4.0" rx="0.9" fill="#0a0a0a"/>
<rect x="563.66" y="806.60" width="4.0" height="4.0" rx="0.9" fill="#0a0a0a"/>
<rect x="569.42" y="806.60" width="4.0" height="4.0" rx="0.9" fill="#0a0a0a"/>
<rect x="575.18" y="806.60" width="4.0" height="4.0" rx="0.9" fill="#0a0a0a"/>
<rect x="580.94" y="806.60" width="4.0" height="4.0" rx="0.9" fill="#0a0a0a"/>
<rect x="586.70" y="806.60" width="4.0" height="4.0" rx="0.9" fill="#0a0a0a"/>
<rect x="592.46" y="806.60" width="4.0" height="4.0" rx="0.9" fill="#0a0a0a"/>
<rect x="598.22" y="806.60" width="4.0" height="4.0" rx="0.9" fill="#0a0a0a"/>
<rect x="603.98" y="806.60" width="4.0" height="4.0" rx="0.9" fill="#0a0a0a"/>
<rect x="609.74" y="806.60" width="4.0" height="4.0" rx="0.9" fill="#0a0a0a"/>
<rect x="615.50" y="806.60" width="4.0" height="4.0" rx="0.9" fill="#0a0a0a"/>
<rect x="621.26" y="806.60" width="4.0" height="4.0" rx="0.9" fill="#0a0a0a"/>
<rect x="627.02" y="806.60" width="4.0" height="4.0" rx="0.9" fill="#0a0a0a"/>
<rect x="632.78" y="806.60" width="4.0" height="4.0" rx="0.9" fill="#0a0a0a"/>
<rect x="638.54" y="806.60" width="4.0" height="4.0" rx="0.9" fill="#0a0a0a"/>
<rect x="644.30" y="806.60" width="4.0" height="4.0" rx="0.9" fill="#0a0a0a"/>
<rect x="650.06" y="806.60" width="4.0" height="4.0" rx="0.9" fill="#0a0a0a"/>
<rect x="655.82" y="806.60" width="4.0" height="4.0" rx="0.9" fill="#0a0a0a"/>
<rect x="661.58" y="806.60" width="4.0" height="4.0" rx="0.9" fill="#0a0a0a"/>
<rect x="667.34" y="806.60" width="4.0" height="4.0" rx="0.9" fill="#0a0a0a"/>
<rect x="673.10" y="806.60" width="4.0" height="4.0" rx="0.9" fill="#0a0a0a"/>
<rect x="471.50" y="812.35" width="4.0" height="4.0" rx="0.9" fill="#0a0a0a"/>
<rect x="477.26" y="812.35" width="4.0" height="4.0" rx="0.9" fill="#0a0a0a"/>
<rect x="483.02" y="812.35" width="4.0" height="4.0" rx="0.9" fill="#0a0a0a"/>
<rect x="488.78" y="812.35" width="4.0" height="4.0" rx="0.9" fill="#0a0a0a"/>
<rect x="494.54" y="812.35" width="4.0" height="4.0" rx="0.9" fill="#0a0a0a"/>
<rect x="500.30" y="812.35" width="4.0" height="4.0" rx="0.9" fill="#0a0a0a"/>
<rect x="506.06" y="812.35" width="4.0" height="4.0" rx="0.9" fill="#0a0a0a"/>
<rect x="511.82" y="812.35" width="4.0" height="4.0" rx="0.9" fill="#0a0a0a"/>
<rect x="517.58" y="812.35" width="4.0" height="4.0" rx="0.9" fill="#0a0a0a"/>
<rect x="523.34" y="812.35" width="4.0" height="4.0" rx="0.9" fill="#0a0a0a"/>
<rect x="529.10" y="812.35" width="4.0" height="4.0" rx="0.9" fill="#0a0a0a"/>
<rect x="534.86" y="812.35" width="4.0" height="4.0" rx="0.9" fill="#0a0a0a"/>
<rect x="540.62" y="812.35" width="4.0" height="4.0" rx="0.9" fill="#0a0a0a"/>
<rect x="546.38" y="812.35" width="4.0" height="4.0" rx="0.9" fill="#0a0a0a"/>
<rect x="552.14" y="812.35" width="4.0" height="4.0" rx="0.9" fill="#0a0a0a"/>
<rect x="557.90" y="812.35" width="4.0" height="4.0" rx="0.9" fill="#0a0a0a"/>
<rect x="563.66" y="812.35" width="4.0" height="4.0" rx="0.9" fill="#0a0a0a"/>
<rect x="569.42" y="812.35" width="4.0" height="4.0" rx="0.9" fill="#0a0a0a"/>
<rect x="575.18" y="812.35" width="4.0" height="4.0" rx="0.9" fill="#0a0a0a"/>
<rect x="580.94" y="812.35" width="4.0" height="4.0" rx="0.9" fill="#0a0a0a"/>
<rect x="586.70" y="812.35" width="4.0" height="4.0" rx="0.9" fill="#0a0a0a"/>
<rect x="592.46" y="812.35" width="4.0" height="4.0" rx="0.9" fill="#0a0a0a"/>
<rect x="598.22" y="812.35" width="4.0" height="4.0" rx="0.9" fill="#0a0a0a"/>
<rect x="603.98" y="812.35" width="4.0" height="4.0" rx="0.9" fill="#0a0a0a"/>
<rect x="609.74" y="812.35" width="4.0" height="4.0" rx="0.9" fill="#0a0a0a"/>
<rect x="615.50" y="812.35" width="4.0" height="4.0" rx="0.9" fill="#0a0a0a"/>
<rect x="621.26" y="812.35" width="4.0" height="4.0" rx="0.9" fill="#0a0a0a"/>
<rect x="627.02" y="812.35" width="4.0" height="4.0" rx="0.9" fill="#0a0a0a"/>
<rect x="632.78" y="812.35" width="4.0" height="4.0" rx="0.9" fill="#0a0a0a"/>
<rect x="638.54" y="812.35" width="4.0" height="4.0" rx="0.9" fill="#0a0a0a"/>
<rect x="644.30" y="812.35" width="4.0" height="4.0" rx="0.9" fill="#0a0a0a"/>
<rect x="650.06" y="812.35" width="4.0" height="4.0" rx="0.9" fill="#0a0a0a"/>
<rect x="655.82" y="812.35" width="4.0" height="4.0" rx="0.9" fill="#0a0a0a"/>
<rect x="661.58" y="812.35" width="4.0" height="4.0" rx="0.9" fill="#0a0a0a"/>
<rect x="667.34" y="812.35" width="4.0" height="4.0" rx="0.9" fill="#0a0a0a"/>
<rect x="673.10" y="812.35" width="4.0" height="4.0" rx="0.9" fill="#0a0a0a"/>
<rect x="471.50" y="818.10" width="4.0" height="4.0" rx="0.9" fill="#0a0a0a"/>
<rect x="477.26" y="818.10" width="4.0" height="4.0" rx="0.9" fill="#0a0a0a"/>
<rect x="483.02" y="818.10" width="4.0" height="4.0" rx="0.9" fill="#0a0a0a"/>
<rect x="488.78" y="818.10" width="4.0" height="4.0" rx="0.9" fill="#0a0a0a"/>
<rect x="494.54" y="818.10" width="4.0" height="4.0" rx="0.9" fill="#0a0a0a"/>
<rect x="500.30" y="818.10" width="4.0" height="4.0" rx="0.9" fill="#0a0a0a"/>
<rect x="506.06" y="818.10" width="4.0" height="4.0" rx="0.9" fill="#0a0a0a"/>
<rect x="511.82" y="818.10" width="4.0" height="4.0" rx="0.9" fill="#0a0a0a"/>
<rect x="517.58" y="818.10" width="4.0" height="4.0" rx="0.9" fill="#0a0a0a"/>
<rect x="523.34" y="818.10" width="4.0" height="4.0" rx="0.9" fill="#0a0a0a"/>
<rect x="529.10" y="818.10" width="4.0" height="4.0" rx="0.9" fill="#0a0a0a"/>
<rect x="534.86" y="818.10" width="4.0" height="4.0" rx="0.9" fill="#0a0a0a"/>
<rect x="540.62" y="818.10" width="4.0" height="4.0" rx="0.9" fill="#0a0a0a"/>
<rect x="546.38" y="818.10" width="4.0" height="4.0" rx="0.9" fill="#0a0a0a"/>
<rect x="552.14" y="818.10" width="4.0" height="4.0" rx="0.9" fill="#0a0a0a"/>
<rect x="557.90" y="818.10" width="4.0" height="4.0" rx="0.9" fill="#0a0a0a"/>
<rect x="563.66" y="818.10" width="4.0" height="4.0" rx="0.9" fill="#0a0a0a"/>
<rect x="569.42" y="818.10" width="4.0" height="4.0" rx="0.9" fill="#0a0a0a"/>
<rect x="575.18" y="818.10" width="4.0" height="4.0" rx="0.9" fill="#0a0a0a"/>
<rect x="580.94" y="818.10" width="4.0" height="4.0" rx="0.9" fill="#0a0a0a"/>
<rect x="586.70" y="818.10" width="4.0" height="4.0" rx="0.9" fill="#0a0a0a"/>
<rect x="592.46" y="818.10" width="4.0" height="4.0" rx="0.9" fill="#0a0a0a"/>
<rect x="598.22" y="818.10" width="4.0" height="4.0" rx="0.9" fill="#0a0a0a"/>
<rect x="603.98" y="818.10" width="4.0" height="4.0" rx="0.9" fill="#0a0a0a"/>
<rect x="609.74" y="818.10" width="4.0" height="4.0" rx="0.9" fill="#0a0a0a"/>
<rect x="615.50" y="818.10" width="4.0" height="4.0" rx="0.9" fill="#0a0a0a"/>
<rect x="621.26" y="818.10" width="4.0" height="4.0" rx="0.9" fill="#0a0a0a"/>
<rect x="627.02" y="818.10" width="4.0" height="4.0" rx="0.9" fill="#0a0a0a"/>
<rect x="632.78" y="818.10" width="4.0" height="4.0" rx="0.9" fill="#0a0a0a"/>
<rect x="638.54" y="818.10" width="4.0" height="4.0" rx="0.9" fill="#0a0a0a"/>
<rect x="644.30" y="818.10" width="4.0" height="4.0" rx="0.9" fill="#0a0a0a"/>
<rect x="650.06" y="818.10" width="4.0" height="4.0" rx="0.9" fill="#0a0a0a"/>
<rect x="655.82" y="818.10" width="4.0" height="4.0" rx="0.9" fill="#0a0a0a"/>
<rect x="661.58" y="818.10" width="4.0" height="4.0" rx="0.9" fill="#0a0a0a"/>
<rect x="667.34" y="818.10" width="4.0" height="4.0" rx="0.9" fill="#0a0a0a"/>
<rect x="673.10" y="818.10" width="4.0" height="4.0" rx="0.9" fill="#0a0a0a"/>
<path d="M686 767 L694 767 L694 798.2 L686.8 798.2 L686.8 826 L686 826 Z" fill="#fbfcfd"/>
<rect x="692.2" y="768.5" width="1.2" height="29.5" fill="#3a3d42"/>
<rect x="686.5" y="798.2" width="1" height="28" fill="#9aa2ab"/>
<rect x="687.5" y="768" width="4" height="4" fill="#9aa3ad"/>
<rect x="677.2" y="771.90" width="4" height="4" rx="0.8" fill="#aab4c0"/>
<rect x="677.2" y="777.65" width="4" height="4" rx="0.8" fill="#aab4c0"/>
<rect x="677.2" y="783.40" width="4" height="4" rx="0.8" fill="#aab4c0"/>
<rect x="677.2" y="789.15" width="4" height="4" rx="0.8" fill="#aab4c0"/>
<rect x="677.2" y="794.90" width="4" height="4" rx="0.8" fill="#aab4c0"/>
<rect x="677.2" y="800.65" width="4" height="4" rx="0.8" fill="#aab4c0"/>
<rect x="677.2" y="806.40" width="4" height="4" rx="0.8" fill="#aab4c0"/>
<rect x="677.2" y="812.15" width="4" height="4" rx="0.8" fill="#aab4c0"/>
<rect x="677.2" y="817.90" width="4" height="4" rx="0.8" fill="#aab4c0"/>
<rect x="78.5" y="856" width="396" height="29" fill="#f3f5f7"/>
<line x1="78.5" y1="856" x2="474.5" y2="856" stroke="#d3d8de" stroke-width="0.8"/>
<rect x="87.0" y="860.9" width="21" height="15" rx="1.2" fill="#a3a7ab"/>
<rect x="88.5" y="862.8" width="17.5" height="11.2" fill="#5e6164"/>
<rect x="98.5" y="862.8" width="1" height="11.2" fill="#3a3c3e"/>
<rect x="90.5" y="863.5" width="3" height="3" fill="#2a2c2e"/>
<rect x="91.0" y="873" width="12" height="1" fill="#8a8d90"/>
<rect x="106.0" y="862.5" width="1.6" height="1.8" fill="#e8e8e8"/>
<rect x="106.0" y="865.7" width="1.6" height="1.8" fill="#e8e8e8"/>
<rect x="106.0" y="868.9" width="1.6" height="1.8" fill="#e8e8e8"/>
<rect x="106.0" y="872.1" width="1.6" height="1.8" fill="#e8e8e8"/>
<rect x="112.2" y="865" width="4.2" height="4" rx="0.8" fill="#111"/>
<rect x="112.2" y="871.6" width="4.2" height="4" rx="0.8" fill="#111"/>
<rect x="91.0" y="877.7" width="3" height="2.3" fill="#222"/>
<rect x="107.0" y="877.7" width="3.5" height="2.3" fill="#222"/>
<path d="M96.0 860.9 L97.5 858.5 L99.0 860.9 Z" fill="#888"/>
<rect x="117.3" y="860.9" width="21" height="15" rx="1.2" fill="#a3a7ab"/>
<rect x="118.8" y="862.8" width="17.5" height="11.2" fill="#5e6164"/>
<rect x="128.8" y="862.8" width="1" height="11.2" fill="#3a3c3e"/>
<rect x="120.8" y="863.5" width="3" height="3" fill="#2a2c2e"/>
<rect x="121.3" y="873" width="12" height="1" fill="#8a8d90"/>
<rect x="136.3" y="862.5" width="1.6" height="1.8" fill="#e8e8e8"/>
<rect x="136.3" y="865.7" width="1.6" height="1.8" fill="#e8e8e8"/>
<rect x="136.3" y="868.9" width="1.6" height="1.8" fill="#e8e8e8"/>
<rect x="136.3" y="872.1" width="1.6" height="1.8" fill="#e8e8e8"/>
<rect x="142.5" y="865" width="4.2" height="4" rx="0.8" fill="#111"/>
<rect x="142.5" y="871.6" width="4.2" height="4" rx="0.8" fill="#111"/>
<rect x="121.3" y="877.7" width="3" height="2.3" fill="#222"/>
<rect x="137.3" y="877.7" width="3.5" height="2.3" fill="#222"/>
<path d="M126.3 860.9 L127.8 858.5 L129.3 860.9 Z" fill="#888"/>
<rect x="155.4" y="858" width="45.6" height="26.8" fill="#cdf3f8"/>
<path d="M156 885 L156 876 Q153 874 153 870 L153 861 Q153 858.5 156 858.5 L170 858.5" fill="none" stroke="#6a7076" stroke-width="0.8"/>
<circle cx="155.4" cy="870.4" r="3.7" fill="#fafafa" stroke="#3a3d40" stroke-width="1.6"/>
<circle cx="155.4" cy="870.4" r="0.9" fill="#555"/>
<circle cx="189.8" cy="870.4" r="3.7" fill="#fafafa" stroke="#3a3d40" stroke-width="1.6"/>
<circle cx="189.8" cy="870.4" r="0.9" fill="#555"/>
<path d="M160.5 862.4 L184.7 862.4 Q186.3 862.4 186 864 L183.8 876.5 Q183.6 877.6 182.4 877.6 L162.8 877.6 Q161.6 877.6 161.4 876.5 L159.2 864 Q158.9 862.4 160.5 862.4 Z" fill="#8e9297"/>
<path d="M162.4 865.6 L182.8 865.6 L181.3 875.4 L163.9 875.4 Z" fill="#6b52ee"/>
<circle cx="165.5" cy="867.6" r="0.7" fill="#2a1c70"/>
<circle cx="168.8" cy="867.6" r="0.7" fill="#2a1c70"/>
<circle cx="172.1" cy="867.6" r="0.7" fill="#2a1c70"/>
<circle cx="175.4" cy="867.6" r="0.7" fill="#2a1c70"/>
<circle cx="178.7" cy="867.6" r="0.7" fill="#2a1c70"/>
<circle cx="166.3" cy="870.5" r="0.7" fill="#2a1c70"/>
<circle cx="169.6" cy="870.5" r="0.7" fill="#2a1c70"/>
<circle cx="172.9" cy="870.5" r="0.7" fill="#2a1c70"/>
<circle cx="176.2" cy="870.5" r="0.7" fill="#2a1c70"/>
<circle cx="179.5" cy="870.5" r="0.7" fill="#2a1c70"/>
<circle cx="165.5" cy="873.4" r="0.7" fill="#2a1c70"/>
<circle cx="168.8" cy="873.4" r="0.7" fill="#2a1c70"/>
<circle cx="172.1" cy="873.4" r="0.7" fill="#2a1c70"/>
<circle cx="175.4" cy="873.4" r="0.7" fill="#2a1c70"/>
<circle cx="178.7" cy="873.4" r="0.7" fill="#2a1c70"/>
<path d="M170 881 h5" stroke="#8ac8e0" stroke-width="1"/>
<rect x="249" y="858.4" width="20" height="26" fill="#141414"/>
<rect x="269" y="858.4" width="22.5" height="26" fill="#86e3ea"/>
<rect x="208.3" y="863.3" width="81" height="17.7" fill="#f2f3f4" stroke="#5c6066" stroke-width="1"/>
<rect x="209.7" y="865.3" width="17.0" height="11.7" fill="#4e5154"/>
<rect x="212.7" y="867.5" width="11.0" height="7.3" fill="#42454a"/>
<rect x="212.7" y="874.8" width="11.0" height="1.4" fill="#6d5e3c"/>
<rect x="210.0" y="865.3" width="2.6" height="2" fill="#c9a236"/>
<rect x="223.6" y="865.3" width="2.8" height="2" fill="#3cc43c"/>
<rect x="229.1" y="865.3" width="17.0" height="11.7" fill="#4e5154"/>
<rect x="232.1" y="867.5" width="11.0" height="7.3" fill="#42454a"/>
<rect x="232.1" y="874.8" width="11.0" height="1.4" fill="#6d5e3c"/>
<rect x="229.4" y="865.3" width="2.6" height="2" fill="#c9a236"/>
<rect x="243.0" y="865.3" width="2.8" height="2" fill="#3cc43c"/>
<rect x="248.5" y="865.3" width="17.0" height="11.7" fill="#4e5154"/>
<rect x="251.5" y="867.5" width="11.0" height="7.3" fill="#42454a"/>
<rect x="251.5" y="874.8" width="11.0" height="1.4" fill="#6d5e3c"/>
<rect x="248.8" y="865.3" width="2.6" height="2" fill="#c9a236"/>
<rect x="262.4" y="865.3" width="2.8" height="2" fill="#3cc43c"/>
<rect x="267.9" y="865.3" width="17.0" height="11.7" fill="#4e5154"/>
<rect x="270.9" y="867.5" width="11.0" height="7.3" fill="#42454a"/>
<rect x="270.9" y="874.8" width="11.0" height="1.4" fill="#6d5e3c"/>
<rect x="268.2" y="865.3" width="2.6" height="2" fill="#c9a236"/>
<rect x="281.8" y="865.3" width="2.8" height="2" fill="#3cc43c"/>
<rect x="301.3" y="858" width="25.4" height="26.7" fill="#151515"/>
<path d="M311 859.5 h6 M314 858.8 v2" stroke="#ddd" stroke-width="0.6"/>
<rect x="305" y="862.7" width="17.6" height="8.6" fill="#cfd4d9"/>
<rect x="306.2" y="863.9" width="15.2" height="6.2" fill="#0e0e10"/>
<rect x="306.2" y="863.9" width="15.2" height="3" fill="#3a64e6"/>
<rect x="305" y="874.0" width="17.6" height="8.6" fill="#cfd4d9"/>
<rect x="306.2" y="875.2" width="15.2" height="6.2" fill="#0e0e10"/>
<rect x="306.2" y="875.2" width="15.2" height="3" fill="#3a64e6"/>
<path d="M342 882 L342 862 Q342 859 345 859 L474 859 L474 882 Z" fill="#f1f3f5" stroke="#cdd2d8" stroke-width="0.7"/>
<rect x="352" y="863" width="86" height="16" fill="#eceef0" stroke="#8a8f95" stroke-width="1"/>
<rect x="354.5" y="866.0" width="18.5" height="11.2" fill="#4e5154"/>
<rect x="357.5" y="868.2" width="12.5" height="6.8" fill="#42454a"/>
<rect x="357.5" y="875.0" width="12.5" height="1.4" fill="#6d5e3c"/>
<rect x="354.8" y="866.0" width="2.6" height="2" fill="#c9a236"/>
<rect x="369.9" y="866.0" width="2.8" height="2" fill="#3cc43c"/>
<rect x="375.7" y="866.0" width="18.5" height="11.2" fill="#4e5154"/>
<rect x="378.7" y="868.2" width="12.5" height="6.8" fill="#42454a"/>
<rect x="378.7" y="875.0" width="12.5" height="1.4" fill="#6d5e3c"/>
<rect x="376.0" y="866.0" width="2.6" height="2" fill="#c9a236"/>
<rect x="391.1" y="866.0" width="2.8" height="2" fill="#3cc43c"/>
<rect x="396.9" y="866.0" width="18.5" height="11.2" fill="#4e5154"/>
<rect x="399.9" y="868.2" width="12.5" height="6.8" fill="#42454a"/>
<rect x="399.9" y="875.0" width="12.5" height="1.4" fill="#6d5e3c"/>
<rect x="397.2" y="866.0" width="2.6" height="2" fill="#c9a236"/>
<rect x="412.3" y="866.0" width="2.8" height="2" fill="#3cc43c"/>
<rect x="418.1" y="866.0" width="18.5" height="11.2" fill="#4e5154"/>
<rect x="421.1" y="868.2" width="12.5" height="6.8" fill="#42454a"/>
<rect x="421.1" y="875.0" width="12.5" height="1.4" fill="#6d5e3c"/>
<rect x="418.4" y="866.0" width="2.6" height="2" fill="#c9a236"/>
<rect x="433.5" y="866.0" width="2.8" height="2" fill="#3cc43c"/>
<text x="344" y="874" font-size="6.2" font-weight="bold" fill="#222" font-family="Liberation Sans">A1</text>
<text x="440.5" y="874" font-size="6.2" font-weight="bold" fill="#222" font-family="Liberation Sans">A4</text>
<rect x="466" y="827" width="9" height="34" fill="#e4e8ec"/>
<rect x="467.2" y="841.8" width="3" height="3" fill="#2a7a4a"/>
<rect x="467.2" y="848.1" width="3" height="3" fill="#2a7a4a"/>
<rect x="467.2" y="854.4" width="3" height="3" fill="#222"/>
<rect x="475.0" y="826" width="103.5" height="58.6" fill="#dfe1e4"/>
<rect x="475.0" y="826" width="103.5" height="1.2" fill="#4a4d52"/>
<rect x="475.0" y="826" width="1.6" height="58.6" fill="#33363a"/>
<rect x="475.0" y="883.3" width="103.5" height="1.3" fill="#5a5d62"/>
<rect x="575.0" y="826" width="3.3" height="58.6" fill="#eef0f2"/>
<ellipse cx="508.2" cy="855.8" rx="24.4" ry="25.6" fill="#111"/>
<line x1="518.1" y1="845.9" x2="526.6" y2="837.4" stroke="#e8eaec" stroke-width="2.1"/>
<line x1="508.2" y1="841.8" x2="508.2" y2="829.8" stroke="#e8eaec" stroke-width="2.1"/>
<line x1="498.3" y1="845.9" x2="489.8" y2="837.4" stroke="#e8eaec" stroke-width="2.1"/>
<line x1="498.3" y1="865.7" x2="489.8" y2="874.2" stroke="#e8eaec" stroke-width="2.1"/>
<line x1="508.2" y1="869.8" x2="508.2" y2="881.8" stroke="#e8eaec" stroke-width="2.1"/>
<line x1="518.1" y1="865.7" x2="526.6" y2="874.2" stroke="#e8eaec" stroke-width="2.1"/>
<path d="M496.2 837.8 A20 20 0 0 1 518.2 836.8" fill="none" stroke="#555" stroke-width="0.7"/>
<path d="M526.2 845.8 A20 20 0 0 1 525.2 867.8" fill="none" stroke="#555" stroke-width="0.7"/>
<path d="M489.2 863.8 A20 20 0 0 1 492.2 843.8" fill="none" stroke="#555" stroke-width="0.7"/>
<circle cx="508.2" cy="855.8" r="15.4" fill="#57595c"/>
<circle cx="485.3" cy="833.4" r="4.2" fill="#f2f3f4" stroke="#9a9ea3" stroke-width="0.8"/>
<circle cx="531.5" cy="833.4" r="4.2" fill="#f2f3f4" stroke="#9a9ea3" stroke-width="0.8"/>
<circle cx="485.3" cy="878.2" r="4.2" fill="#f2f3f4" stroke="#9a9ea3" stroke-width="0.8"/>
<circle cx="531.5" cy="878.2" r="4.2" fill="#f2f3f4" stroke="#9a9ea3" stroke-width="0.8"/>
<rect x="480.6" y="855.8" width="62" height="7.5" fill="#68696c"/>
<rect x="480.6" y="855.8" width="62" height="1.2" fill="#8a8b8e"/>
<rect x="477.0" y="850" width="7" height="17" rx="1.5" fill="#3a3c3f"/>
<rect x="539.0" y="839.7" width="36" height="42.6" rx="1" fill="#4a4b4e"/>
<path d="M544.3 844.3 L562.3 844.3 L568.3 850 L568.3 872.5 L562.3 878.3 L544.3 878.3 Z" fill="#0c0c0c"/>
<path d="M544.3 844.3 L559.0 844.3 L564.0 850 L564.0 872.5 L559.0 878.3 L544.3 878.3 Z" fill="#2e2f32"/>
<rect x="547.5" y="849.0" width="6.3" height="3" fill="#e4e4e4"/>
<rect x="552.0" y="859.2" width="6.3" height="3" fill="#e4e4e4"/>
<rect x="547.5" y="868.2" width="6.3" height="3" fill="#e4e4e4"/>
<rect x="554.3" y="831" width="7.4" height="2.7" fill="#111"/>
<path d="M556.0 835 L561.0 833.7 L573.0 833.7 L573.0 844.3 L562.0 844.3 L556.0 839 Z" fill="#c9dc44"/>
<rect x="563.0" y="836.5" width="9" height="5" fill="#e0e88a"/>
<circle cx="545.7" cy="834.3" r="3.3" fill="#e8e8e8" stroke="#666" stroke-width="1.4"/>
<rect x="579.5" y="826" width="103.5" height="58.6" fill="#dfe1e4"/>
<rect x="579.5" y="826" width="103.5" height="1.2" fill="#4a4d52"/>
<rect x="579.5" y="826" width="1.6" height="58.6" fill="#33363a"/>
<rect x="579.5" y="883.3" width="103.5" height="1.3" fill="#5a5d62"/>
<rect x="679.5" y="826" width="3.3" height="58.6" fill="#eef0f2"/>
<ellipse cx="612.7" cy="855.8" rx="24.4" ry="25.6" fill="#111"/>
<line x1="622.6" y1="845.9" x2="631.1" y2="837.4" stroke="#e8eaec" stroke-width="2.1"/>
<line x1="612.7" y1="841.8" x2="612.7" y2="829.8" stroke="#e8eaec" stroke-width="2.1"/>
<line x1="602.8" y1="845.9" x2="594.3" y2="837.4" stroke="#e8eaec" stroke-width="2.1"/>
<line x1="602.8" y1="865.7" x2="594.3" y2="874.2" stroke="#e8eaec" stroke-width="2.1"/>
<line x1="612.7" y1="869.8" x2="612.7" y2="881.8" stroke="#e8eaec" stroke-width="2.1"/>
<line x1="622.6" y1="865.7" x2="631.1" y2="874.2" stroke="#e8eaec" stroke-width="2.1"/>
<path d="M600.7 837.8 A20 20 0 0 1 622.7 836.8" fill="none" stroke="#555" stroke-width="0.7"/>
<path d="M630.7 845.8 A20 20 0 0 1 629.7 867.8" fill="none" stroke="#555" stroke-width="0.7"/>
<path d="M593.7 863.8 A20 20 0 0 1 596.7 843.8" fill="none" stroke="#555" stroke-width="0.7"/>
<circle cx="612.7" cy="855.8" r="15.4" fill="#57595c"/>
<circle cx="589.8" cy="833.4" r="4.2" fill="#f2f3f4" stroke="#9a9ea3" stroke-width="0.8"/>
<circle cx="636.0" cy="833.4" r="4.2" fill="#f2f3f4" stroke="#9a9ea3" stroke-width="0.8"/>
<circle cx="589.8" cy="878.2" r="4.2" fill="#f2f3f4" stroke="#9a9ea3" stroke-width="0.8"/>
<circle cx="636.0" cy="878.2" r="4.2" fill="#f2f3f4" stroke="#9a9ea3" stroke-width="0.8"/>
<rect x="585.1" y="855.8" width="62" height="7.5" fill="#68696c"/>
<rect x="585.1" y="855.8" width="62" height="1.2" fill="#8a8b8e"/>
<rect x="581.5" y="850" width="7" height="17" rx="1.5" fill="#3a3c3f"/>
<rect x="643.5" y="839.7" width="36" height="42.6" rx="1" fill="#4a4b4e"/>
<path d="M648.8 844.3 L666.8 844.3 L672.8 850 L672.8 872.5 L666.8 878.3 L648.8 878.3 Z" fill="#0c0c0c"/>
<path d="M648.8 844.3 L663.5 844.3 L668.5 850 L668.5 872.5 L663.5 878.3 L648.8 878.3 Z" fill="#2e2f32"/>
<rect x="652.0" y="849.0" width="6.3" height="3" fill="#e4e4e4"/>
<rect x="656.5" y="859.2" width="6.3" height="3" fill="#e4e4e4"/>
<rect x="652.0" y="868.2" width="6.3" height="3" fill="#e4e4e4"/>
<rect x="658.8" y="831" width="7.4" height="2.7" fill="#111"/>
<path d="M660.5 835 L665.5 833.7 L677.5 833.7 L677.5 844.3 L666.5 844.3 L660.5 839 Z" fill="#c9dc44"/>
<rect x="667.5" y="836.5" width="9" height="5" fill="#e0e88a"/>
<circle cx="650.2" cy="834.3" r="3.3" fill="#e8e8e8" stroke="#666" stroke-width="1.4"/>
<circle cx="155.8" cy="816.3" r="8.8" fill="none" stroke="#f47474" stroke-width="1.4"/>
<circle cx="155.8" cy="816.3" r="5.2" fill="#f47474"/>
<circle cx="356.6" cy="817.0" r="9.6" fill="none" stroke="#f47474" stroke-width="1.4"/>
<circle cx="356.6" cy="817.0" r="5.6" fill="#f47474"/>
<circle cx="402.5" cy="869.3" r="10.5" fill="none" stroke="#f47474" stroke-width="1.4"/>
<circle cx="402.5" cy="869.3" r="6.0" fill="#f47474"/>
<circle cx="572.0" cy="804.2" r="9.6" fill="none" stroke="#f47474" stroke-width="1.4"/>
<circle cx="572.0" cy="804.2" r="5.0" fill="#f47474"/>
</g>
</svg></body></html>
